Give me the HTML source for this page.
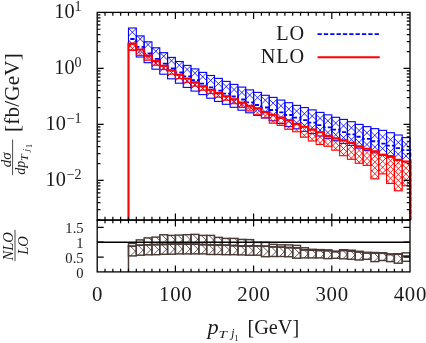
<!DOCTYPE html>
<html lang="en">
<head>
<meta charset="utf-8">
<title>pT j1 distribution: LO vs NLO</title>
<style>
html,body{margin:0;padding:0;background:#ffffff;}
body{width:426px;height:343px;overflow:hidden;}
svg{display:block;will-change:transform;}
</style>
</head>
<body>
<svg width="426" height="343" viewBox="0 0 426 343">
<rect x="0" y="0" width="426" height="343" fill="#ffffff"/>
<clipPath id="mainclip"><rect x="97.2" y="12.4" width="314.8" height="207.7"/></clipPath>
<clipPath id="ratclip"><rect x="97.2" y="220.1" width="312.8" height="51.8"/></clipPath>
<g clip-path="url(#mainclip)">
<g>
<clipPath id="c1"><rect x="128.48" y="28" width="7.82" height="22.1"/></clipPath>
<path d="M132.39 55.63L115.81 39.05M132.39 55.63L148.97 39.05M138.24 49.78L121.66 33.2M126.54 49.78L143.12 33.2M144.09 43.93L127.51 27.35M120.69 43.93L137.27 27.35M149.93 38.08L133.36 21.51M114.85 38.08L131.42 21.51" stroke="#0000ff" stroke-width="0.85" fill="none" clip-path="url(#c1)"/>
<rect x="128.48" y="28" width="7.82" height="22.1" fill="none" stroke="#0000ff" stroke-width="1.1"/>
<clipPath id="c2"><rect x="136.3" y="35.9" width="7.82" height="21.1"/></clipPath>
<path d="M140.21 62.36L124.3 46.45M140.21 62.36L156.12 46.45M146.06 56.51L130.15 40.6M134.36 56.51L150.27 40.6M151.91 50.67L135.99 34.75M128.51 50.67L144.43 34.75M157.75 44.82L141.84 28.91M122.67 44.82L138.58 28.91" stroke="#0000ff" stroke-width="0.85" fill="none" clip-path="url(#c2)"/>
<rect x="136.3" y="35.9" width="7.82" height="21.1" fill="none" stroke="#0000ff" stroke-width="1.1"/>
<clipPath id="c3"><rect x="144.12" y="41.8" width="7.82" height="20.9"/></clipPath>
<path d="M148.03 68.03L132.25 52.25M148.03 68.03L163.81 52.25M153.88 62.18L138.1 46.4M142.18 62.18L157.96 46.4M159.73 56.33L143.95 40.55M136.33 56.33L152.11 40.55M165.57 50.49L149.79 34.71M130.49 50.49L146.27 34.71" stroke="#0000ff" stroke-width="0.85" fill="none" clip-path="url(#c3)"/>
<rect x="144.12" y="41.8" width="7.82" height="20.9" fill="none" stroke="#0000ff" stroke-width="1.1"/>
<clipPath id="c4"><rect x="151.94" y="47.8" width="7.82" height="21.4"/></clipPath>
<path d="M155.85 74.61L139.74 58.5M155.85 74.61L171.96 58.5M161.7 68.76L145.59 52.65M150 68.76L166.11 52.65M167.55 62.92L151.43 46.8M144.15 62.92L160.27 46.8M173.39 57.07L157.28 40.96M138.31 57.07L154.42 40.96" stroke="#0000ff" stroke-width="0.85" fill="none" clip-path="url(#c4)"/>
<rect x="151.94" y="47.8" width="7.82" height="21.4" fill="none" stroke="#0000ff" stroke-width="1.1"/>
<clipPath id="c5"><rect x="159.76" y="52.7" width="7.82" height="21.5"/></clipPath>
<path d="M163.67 79.63L147.49 63.45M163.67 79.63L179.85 63.45M169.52 73.78L153.34 57.6M157.82 73.78L174 57.6M175.37 67.93L159.19 51.75M151.97 67.93L168.15 51.75M181.21 62.08L165.04 45.91M146.13 62.08L162.3 45.91" stroke="#0000ff" stroke-width="0.85" fill="none" clip-path="url(#c5)"/>
<rect x="159.76" y="52.7" width="7.82" height="21.5" fill="none" stroke="#0000ff" stroke-width="1.1"/>
<clipPath id="c6"><rect x="167.58" y="57.4" width="7.82" height="21.4"/></clipPath>
<path d="M171.49 84.21L155.38 68.1M171.49 84.21L187.6 68.1M177.34 78.36L161.23 62.25M165.64 78.36L181.75 62.25M183.19 72.52L167.07 56.4M159.79 72.52L175.91 56.4M189.03 66.67L172.92 50.56M153.95 66.67L170.06 50.56" stroke="#0000ff" stroke-width="0.85" fill="none" clip-path="url(#c6)"/>
<rect x="167.58" y="57.4" width="7.82" height="21.4" fill="none" stroke="#0000ff" stroke-width="1.1"/>
<clipPath id="c7"><rect x="175.4" y="61.5" width="7.82" height="21.7"/></clipPath>
<path d="M179.31 88.66L163 72.35M179.31 88.66L195.62 72.35M185.16 82.81L168.85 66.5M173.46 82.81L189.77 66.5M191.01 76.96L174.7 60.65M167.61 76.96L183.92 60.65M196.85 71.12L180.54 54.81M161.77 71.12L178.08 54.81" stroke="#0000ff" stroke-width="0.85" fill="none" clip-path="url(#c7)"/>
<rect x="175.4" y="61.5" width="7.82" height="21.7" fill="none" stroke="#0000ff" stroke-width="1.1"/>
<clipPath id="c8"><rect x="183.22" y="65.4" width="7.82" height="22"/></clipPath>
<path d="M187.13 92.91L170.62 76.4M187.13 92.91L203.64 76.4M192.98 87.06L176.47 70.55M181.28 87.06L197.79 70.55M198.83 81.21L182.32 64.7M175.43 81.21L191.94 64.7M204.67 75.37L188.16 58.86M169.59 75.37L186.1 58.86" stroke="#0000ff" stroke-width="0.85" fill="none" clip-path="url(#c8)"/>
<rect x="183.22" y="65.4" width="7.82" height="22" fill="none" stroke="#0000ff" stroke-width="1.1"/>
<clipPath id="c9"><rect x="191.04" y="68.9" width="7.82" height="22.2"/></clipPath>
<path d="M194.95 96.64L178.31 80M194.95 96.64L211.59 80M200.8 90.8L184.15 74.15M189.1 90.8L205.75 74.15M206.65 84.95L190 68.3M183.25 84.95L199.9 68.3M212.49 79.1L195.85 62.46M177.41 79.1L194.05 62.46" stroke="#0000ff" stroke-width="0.85" fill="none" clip-path="url(#c9)"/>
<rect x="191.04" y="68.9" width="7.82" height="22.2" fill="none" stroke="#0000ff" stroke-width="1.1"/>
<clipPath id="c10"><rect x="198.86" y="72.4" width="7.82" height="22.2"/></clipPath>
<path d="M202.77 100.14L186.13 83.5M202.77 100.14L219.41 83.5M208.62 94.3L191.97 77.65M196.92 94.3L213.57 77.65M214.47 88.45L197.82 71.8M191.07 88.45L207.72 71.8M220.31 82.6L203.67 65.96M185.23 82.6L201.87 65.96" stroke="#0000ff" stroke-width="0.85" fill="none" clip-path="url(#c10)"/>
<rect x="198.86" y="72.4" width="7.82" height="22.2" fill="none" stroke="#0000ff" stroke-width="1.1"/>
<clipPath id="c11"><rect x="206.68" y="75.5" width="7.82" height="22.7"/></clipPath>
<path d="M210.59 103.83L193.61 86.85M210.59 103.83L227.57 86.85M216.44 97.98L199.46 81M204.74 97.98L221.72 81M222.29 92.13L205.31 75.15M198.89 92.13L215.87 75.15M228.13 86.28L211.16 69.31M193.05 86.28L210.02 69.31" stroke="#0000ff" stroke-width="0.85" fill="none" clip-path="url(#c11)"/>
<rect x="206.68" y="75.5" width="7.82" height="22.7" fill="none" stroke="#0000ff" stroke-width="1.1"/>
<clipPath id="c12"><rect x="214.5" y="78.4" width="7.82" height="23"/></clipPath>
<path d="M218.41 107.08L201.23 89.9M218.41 107.08L235.59 89.9M224.26 101.23L207.08 84.05M212.56 101.23L229.74 84.05M230.11 95.38L212.93 78.2M206.71 95.38L223.89 78.2M235.95 89.53L218.78 72.36M200.87 89.53L218.04 72.36" stroke="#0000ff" stroke-width="0.85" fill="none" clip-path="url(#c12)"/>
<rect x="214.5" y="78.4" width="7.82" height="23" fill="none" stroke="#0000ff" stroke-width="1.1"/>
<clipPath id="c13"><rect x="222.32" y="81.4" width="7.82" height="22.9"/></clipPath>
<path d="M226.23 109.96L209.12 92.85M226.23 109.96L243.34 92.85M232.08 104.11L214.97 87M220.38 104.11L237.49 87M237.93 98.27L220.81 81.15M214.53 98.27L231.65 81.15M243.77 92.42L226.66 75.31M208.69 92.42L225.8 75.31" stroke="#0000ff" stroke-width="0.85" fill="none" clip-path="url(#c13)"/>
<rect x="222.32" y="81.4" width="7.82" height="22.9" fill="none" stroke="#0000ff" stroke-width="1.1"/>
<clipPath id="c14"><rect x="230.14" y="84.4" width="7.82" height="22.9"/></clipPath>
<path d="M234.05 112.96L216.94 95.85M234.05 112.96L251.16 95.85M239.9 107.11L222.79 90M228.2 107.11L245.31 90M245.75 101.27L228.63 84.15M222.35 101.27L239.47 84.15M251.59 95.42L234.48 78.31M216.51 95.42L233.62 78.31" stroke="#0000ff" stroke-width="0.85" fill="none" clip-path="url(#c14)"/>
<rect x="230.14" y="84.4" width="7.82" height="22.9" fill="none" stroke="#0000ff" stroke-width="1.1"/>
<clipPath id="c15"><rect x="237.96" y="87.1" width="7.82" height="23.1"/></clipPath>
<path d="M241.87 115.89L224.63 98.65M241.87 115.89L259.11 98.65M247.72 110.05L230.47 92.8M236.02 110.05L253.27 92.8M253.57 104.2L236.32 86.95M230.17 104.2L247.42 86.95M259.41 98.35L242.17 81.11M224.33 98.35L241.57 81.11" stroke="#0000ff" stroke-width="0.85" fill="none" clip-path="url(#c15)"/>
<rect x="237.96" y="87.1" width="7.82" height="23.1" fill="none" stroke="#0000ff" stroke-width="1.1"/>
<clipPath id="c16"><rect x="245.78" y="89.9" width="7.82" height="22.9"/></clipPath>
<path d="M249.69 118.46L232.58 101.35M249.69 118.46L266.8 101.35M255.54 112.61L238.43 95.5M243.84 112.61L260.95 95.5M261.39 106.77L244.27 89.65M237.99 106.77L255.11 89.65M267.23 100.92L250.12 83.81M232.15 100.92L249.26 83.81" stroke="#0000ff" stroke-width="0.85" fill="none" clip-path="url(#c16)"/>
<rect x="245.78" y="89.9" width="7.82" height="22.9" fill="none" stroke="#0000ff" stroke-width="1.1"/>
<clipPath id="c17"><rect x="253.6" y="92.4" width="7.82" height="23"/></clipPath>
<path d="M257.51 121.08L240.33 103.9M257.51 121.08L274.69 103.9M263.36 115.23L246.18 98.05M251.66 115.23L268.84 98.05M269.21 109.38L252.03 92.2M245.81 109.38L262.99 92.2M275.05 103.53L257.88 86.36M239.97 103.53L257.14 86.36" stroke="#0000ff" stroke-width="0.85" fill="none" clip-path="url(#c17)"/>
<rect x="253.6" y="92.4" width="7.82" height="23" fill="none" stroke="#0000ff" stroke-width="1.1"/>
<clipPath id="c18"><rect x="261.42" y="95.3" width="7.82" height="22.7"/></clipPath>
<path d="M265.33 123.63L248.35 106.65M265.33 123.63L282.31 106.65M271.18 117.78L254.2 100.8M259.48 117.78L276.46 100.8M277.03 111.93L260.05 94.95M253.63 111.93L270.61 94.95M282.87 106.08L265.9 89.11M247.79 106.08L264.76 89.11" stroke="#0000ff" stroke-width="0.85" fill="none" clip-path="url(#c18)"/>
<rect x="261.42" y="95.3" width="7.82" height="22.7" fill="none" stroke="#0000ff" stroke-width="1.1"/>
<clipPath id="c19"><rect x="269.24" y="97.4" width="7.82" height="23.4"/></clipPath>
<path d="M273.15 126.55L255.7 109.1M273.15 126.55L290.6 109.1M279 120.7L261.55 103.25M267.3 120.7L284.75 103.25M284.85 114.85L267.4 97.4M261.45 114.85L278.9 97.4M290.69 109L273.25 91.56M255.61 109L273.05 91.56" stroke="#0000ff" stroke-width="0.85" fill="none" clip-path="url(#c19)"/>
<rect x="269.24" y="97.4" width="7.82" height="23.4" fill="none" stroke="#0000ff" stroke-width="1.1"/>
<clipPath id="c20"><rect x="277.06" y="100.1" width="7.82" height="23.3"/></clipPath>
<path d="M280.97 129.13L263.59 111.75M280.97 129.13L298.35 111.75M286.82 123.28L269.44 105.9M275.12 123.28L292.5 105.9M292.67 117.43L275.29 100.05M269.27 117.43L286.65 100.05M298.51 111.59L281.13 94.21M263.43 111.59L280.81 94.21" stroke="#0000ff" stroke-width="0.85" fill="none" clip-path="url(#c20)"/>
<rect x="277.06" y="100.1" width="7.82" height="23.3" fill="none" stroke="#0000ff" stroke-width="1.1"/>
<clipPath id="c21"><rect x="284.88" y="102.7" width="7.82" height="23.9"/></clipPath>
<path d="M288.79 132.43L271.01 114.65M288.79 132.43L306.57 114.65M294.64 126.58L276.86 108.8M282.94 126.58L300.72 108.8M300.49 120.74L282.7 102.95M277.09 120.74L294.88 102.95M306.33 114.89L288.55 97.11M271.25 114.89L289.03 97.11M312.18 109.04L294.4 91.26M265.4 109.04L283.18 91.26" stroke="#0000ff" stroke-width="0.85" fill="none" clip-path="url(#c21)"/>
<rect x="284.88" y="102.7" width="7.82" height="23.9" fill="none" stroke="#0000ff" stroke-width="1.1"/>
<clipPath id="c22"><rect x="292.7" y="105.4" width="7.82" height="23.4"/></clipPath>
<path d="M296.61 134.55L279.16 117.1M296.61 134.55L314.06 117.1M302.46 128.7L285.01 111.25M290.76 128.7L308.21 111.25M308.31 122.85L290.86 105.4M284.91 122.85L302.36 105.4M314.15 117L296.71 99.56M279.07 117L296.51 99.56" stroke="#0000ff" stroke-width="0.85" fill="none" clip-path="url(#c22)"/>
<rect x="292.7" y="105.4" width="7.82" height="23.4" fill="none" stroke="#0000ff" stroke-width="1.1"/>
<clipPath id="c23"><rect x="300.52" y="107.6" width="7.82" height="23.7"/></clipPath>
<path d="M304.43 137.1L286.78 119.45M304.43 137.1L322.08 119.45M310.28 131.25L292.63 113.6M298.58 131.25L316.23 113.6M316.13 125.4L298.48 107.75M292.73 125.4L310.38 107.75M321.97 119.55L304.33 101.91M286.89 119.55L304.53 101.91M327.82 113.71L310.17 96.06M281.04 113.71L298.69 96.06" stroke="#0000ff" stroke-width="0.85" fill="none" clip-path="url(#c23)"/>
<rect x="300.52" y="107.6" width="7.82" height="23.7" fill="none" stroke="#0000ff" stroke-width="1.1"/>
<clipPath id="c24"><rect x="308.34" y="109.9" width="7.82" height="23.7"/></clipPath>
<path d="M312.25 139.4L294.6 121.75M312.25 139.4L329.9 121.75M318.1 133.55L300.45 115.9M306.4 133.55L324.05 115.9M323.95 127.7L306.3 110.05M300.55 127.7L318.2 110.05M329.79 121.85L312.15 104.21M294.71 121.85L312.35 104.21M335.64 116.01L317.99 98.36M288.86 116.01L306.51 98.36" stroke="#0000ff" stroke-width="0.85" fill="none" clip-path="url(#c24)"/>
<rect x="308.34" y="109.9" width="7.82" height="23.7" fill="none" stroke="#0000ff" stroke-width="1.1"/>
<clipPath id="c25"><rect x="316.16" y="112.4" width="7.82" height="23.6"/></clipPath>
<path d="M320.07 141.78L302.49 124.2M320.07 141.78L337.65 124.2M325.92 135.93L308.34 118.35M314.22 135.93L331.8 118.35M331.77 130.08L314.19 112.5M308.37 130.08L325.95 112.5M337.61 124.24L320.03 106.66M302.53 124.24L320.11 106.66M343.46 118.39L325.88 100.81M296.68 118.39L314.26 100.81" stroke="#0000ff" stroke-width="0.85" fill="none" clip-path="url(#c25)"/>
<rect x="316.16" y="112.4" width="7.82" height="23.6" fill="none" stroke="#0000ff" stroke-width="1.1"/>
<clipPath id="c26"><rect x="323.98" y="114.85" width="7.82" height="23.55"/></clipPath>
<path d="M327.89 144.17L310.34 126.62M327.89 144.17L345.44 126.62M333.74 138.32L316.19 120.78M322.04 138.32L339.59 120.78M339.59 132.48L322.04 114.93M316.19 132.48L333.74 114.93M345.43 126.63L327.89 109.08M310.35 126.63L327.89 109.08M351.28 120.78L333.73 103.23M304.5 120.78L322.05 103.23" stroke="#0000ff" stroke-width="0.85" fill="none" clip-path="url(#c26)"/>
<rect x="323.98" y="114.85" width="7.82" height="23.55" fill="none" stroke="#0000ff" stroke-width="1.1"/>
<clipPath id="c27"><rect x="331.8" y="117.3" width="7.82" height="23.4"/></clipPath>
<path d="M335.71 146.45L318.26 129M335.71 146.45L353.16 129M341.56 140.6L324.11 123.15M329.86 140.6L347.31 123.15M347.41 134.75L329.96 117.3M324.01 134.75L341.46 117.3M353.25 128.9L335.81 111.46M318.17 128.9L335.61 111.46" stroke="#0000ff" stroke-width="0.85" fill="none" clip-path="url(#c27)"/>
<rect x="331.8" y="117.3" width="7.82" height="23.4" fill="none" stroke="#0000ff" stroke-width="1.1"/>
<clipPath id="c28"><rect x="339.62" y="119.4" width="7.82" height="24"/></clipPath>
<path d="M343.53 149.25L325.68 131.4M343.53 149.25L361.38 131.4M349.38 143.4L331.53 125.55M337.68 143.4L355.53 125.55M355.23 137.55L337.38 119.7M331.83 137.55L349.68 119.7M361.07 131.71L343.22 113.86M325.99 131.71L343.84 113.86M366.92 125.86L349.07 108.01M320.14 125.86L337.99 108.01" stroke="#0000ff" stroke-width="0.85" fill="none" clip-path="url(#c28)"/>
<rect x="339.62" y="119.4" width="7.82" height="24" fill="none" stroke="#0000ff" stroke-width="1.1"/>
<clipPath id="c29"><rect x="347.44" y="121.7" width="7.82" height="23.7"/></clipPath>
<path d="M351.35 151.2L333.7 133.55M351.35 151.2L369 133.55M357.2 145.35L339.55 127.7M345.5 145.35L363.15 127.7M363.05 139.5L345.4 121.85M339.65 139.5L357.3 121.85M368.89 133.65L351.25 116.01M333.81 133.65L351.45 116.01M374.74 127.81L357.09 110.16M327.96 127.81L345.61 110.16" stroke="#0000ff" stroke-width="0.85" fill="none" clip-path="url(#c29)"/>
<rect x="347.44" y="121.7" width="7.82" height="23.7" fill="none" stroke="#0000ff" stroke-width="1.1"/>
<clipPath id="c30"><rect x="355.26" y="124.4" width="7.82" height="23.7"/></clipPath>
<path d="M359.17 153.9L341.52 136.25M359.17 153.9L376.82 136.25M365.02 148.05L347.37 130.4M353.32 148.05L370.97 130.4M370.87 142.2L353.22 124.55M347.47 142.2L365.12 124.55M376.71 136.35L359.07 118.71M341.63 136.35L359.27 118.71M382.56 130.51L364.91 112.86M335.78 130.51L353.43 112.86" stroke="#0000ff" stroke-width="0.85" fill="none" clip-path="url(#c30)"/>
<rect x="355.26" y="124.4" width="7.82" height="23.7" fill="none" stroke="#0000ff" stroke-width="1.1"/>
<clipPath id="c31"><rect x="363.08" y="126.65" width="7.82" height="23.75"/></clipPath>
<path d="M366.99 156.21L349.31 138.53M366.99 156.21L384.67 138.53M372.84 150.36L355.16 132.68M361.14 150.36L378.82 132.68M378.69 144.51L361 126.83M355.29 144.51L372.98 126.83M384.53 138.66L366.85 120.98M349.45 138.66L367.13 120.98M390.38 132.81L372.7 115.13M343.6 132.81L361.28 115.13" stroke="#0000ff" stroke-width="0.85" fill="none" clip-path="url(#c31)"/>
<rect x="363.08" y="126.65" width="7.82" height="23.75" fill="none" stroke="#0000ff" stroke-width="1.1"/>
<clipPath id="c32"><rect x="370.9" y="128.65" width="7.82" height="24.25"/></clipPath>
<path d="M374.81 158.79L356.79 140.78M374.81 158.79L392.83 140.78M380.66 152.94L362.64 134.93M368.96 152.94L386.98 134.93M386.51 147.1L368.49 129.08M363.11 147.1L381.13 129.08M392.35 141.25L374.34 123.23M357.27 141.25L375.28 123.23M398.2 135.4L380.18 117.38M351.42 135.4L369.44 117.38" stroke="#0000ff" stroke-width="0.85" fill="none" clip-path="url(#c32)"/>
<rect x="370.9" y="128.65" width="7.82" height="24.25" fill="none" stroke="#0000ff" stroke-width="1.1"/>
<clipPath id="c33"><rect x="378.72" y="130.35" width="7.82" height="24.05"/></clipPath>
<path d="M382.63 160.26L364.75 142.38M382.63 160.26L400.51 142.38M388.48 154.41L370.6 136.53M376.78 154.41L394.66 136.53M394.33 148.56L376.44 130.68M370.93 148.56L388.82 130.68M400.17 142.71L382.29 124.83M365.09 142.71L382.97 124.83M406.02 136.87L388.14 118.98M359.24 136.87L377.12 118.98" stroke="#0000ff" stroke-width="0.85" fill="none" clip-path="url(#c33)"/>
<rect x="378.72" y="130.35" width="7.82" height="24.05" fill="none" stroke="#0000ff" stroke-width="1.1"/>
<clipPath id="c34"><rect x="386.54" y="132.7" width="7.82" height="24.5"/></clipPath>
<path d="M390.45 163.14L372.26 144.95M390.45 163.14L408.64 144.95M396.3 157.29L378.11 139.1M384.6 157.29L402.79 139.1M402.15 151.44L383.96 133.25M378.75 151.44L396.94 133.25M407.99 145.59L389.81 127.41M372.91 145.59L391.09 127.41M413.84 139.74L395.66 121.56M367.06 139.74L385.24 121.56" stroke="#0000ff" stroke-width="0.85" fill="none" clip-path="url(#c34)"/>
<rect x="386.54" y="132.7" width="7.82" height="24.5" fill="none" stroke="#0000ff" stroke-width="1.1"/>
<clipPath id="c35"><rect x="394.36" y="135" width="7.82" height="24.8"/></clipPath>
<path d="M398.27 165.79L379.88 147.4M398.27 165.79L416.66 147.4M404.12 159.94L385.73 141.55M392.42 159.94L410.81 141.55M409.97 154.09L391.58 135.7M386.57 154.09L404.96 135.7M415.81 148.24L397.43 129.86M380.73 148.24L399.11 129.86M421.66 142.4L403.27 124.01M374.88 142.4L393.27 124.01" stroke="#0000ff" stroke-width="0.85" fill="none" clip-path="url(#c35)"/>
<rect x="394.36" y="135" width="7.82" height="24.8" fill="none" stroke="#0000ff" stroke-width="1.1"/>
<clipPath id="c36"><rect x="402.18" y="137.6" width="7.82" height="24.2"/></clipPath>
<path d="M406.09 167.68L388.11 149.7M406.09 167.68L424.07 149.7M411.94 161.84L393.95 143.85M400.24 161.84L418.23 143.85M417.79 155.99L399.8 138M394.39 155.99L412.38 138M423.63 150.14L405.65 132.16M388.55 150.14L406.53 132.16M429.48 144.29L411.5 126.31M382.7 144.29L400.68 126.31" stroke="#0000ff" stroke-width="0.85" fill="none" clip-path="url(#c36)"/>
<rect x="402.18" y="137.6" width="7.82" height="24.2" fill="none" stroke="#0000ff" stroke-width="1.1"/>
</g><g>
<clipPath id="c37"><rect x="128.48" y="43.6" width="7.82" height="6.7"/></clipPath>
<path d="M132.39 54.23L125.11 46.95M132.39 54.23L139.67 46.95M135.32 51.3L128.04 44.02M129.46 51.3L136.74 44.02M138.24 48.38L130.96 41.1M126.54 48.38L133.82 41.1M141.17 45.45L133.89 38.17M123.61 45.45L130.89 38.17" stroke="#ff0000" stroke-width="0.85" fill="none" clip-path="url(#c37)"/>
<rect x="128.48" y="43.6" width="7.82" height="6.7" fill="none" stroke="#ff0000" stroke-width="1.1"/>
<clipPath id="c38"><rect x="136.3" y="49.5" width="7.82" height="5.9"/></clipPath>
<path d="M140.21 59.38L133.28 52.45M140.21 59.38L147.14 52.45M143.14 56.45L136.21 49.52M137.28 56.45L144.21 49.52M146.06 53.52L139.14 46.6M134.36 53.52L141.28 46.6M148.99 50.59L142.07 43.67M131.43 50.59L138.35 43.67" stroke="#ff0000" stroke-width="0.85" fill="none" clip-path="url(#c38)"/>
<rect x="136.3" y="49.5" width="7.82" height="5.9" fill="none" stroke="#ff0000" stroke-width="1.1"/>
<clipPath id="c39"><rect x="144.12" y="55.6" width="7.82" height="4.6"/></clipPath>
<path d="M148.03 64.32L141.61 57.9M148.03 64.32L154.45 57.9M150.96 61.39L144.54 54.97M145.1 61.39L151.52 54.97M153.88 58.46L147.47 52.05M142.18 58.46L148.59 52.05M156.81 55.53L150.4 49.12M139.25 55.53L145.66 49.12" stroke="#ff0000" stroke-width="0.85" fill="none" clip-path="url(#c39)"/>
<rect x="144.12" y="55.6" width="7.82" height="4.6" fill="none" stroke="#ff0000" stroke-width="1.1"/>
<clipPath id="c40"><rect x="151.94" y="61.1" width="7.82" height="4.2"/></clipPath>
<path d="M155.85 69.48L149.57 63.2M155.85 69.48L162.13 63.2M158.78 66.55L152.5 60.27M152.92 66.55L159.2 60.27M161.7 63.62L155.43 57.35M150 63.62L156.27 57.35M164.63 60.69L158.36 54.42M147.07 60.69L153.34 54.42" stroke="#ff0000" stroke-width="0.85" fill="none" clip-path="url(#c40)"/>
<rect x="151.94" y="61.1" width="7.82" height="4.2" fill="none" stroke="#ff0000" stroke-width="1.1"/>
<clipPath id="c41"><rect x="159.76" y="65.8" width="7.82" height="3.7"/></clipPath>
<path d="M163.67 73.77L157.55 67.65M163.67 73.77L169.79 67.65M166.6 70.84L160.48 64.72M160.74 70.84L166.86 64.72M169.52 67.91L163.41 61.8M157.82 67.91L163.93 61.8M172.45 64.99L166.33 58.87M154.89 64.99L161.01 58.87" stroke="#ff0000" stroke-width="0.85" fill="none" clip-path="url(#c41)"/>
<rect x="159.76" y="65.8" width="7.82" height="3.7" fill="none" stroke="#ff0000" stroke-width="1.1"/>
<clipPath id="c42"><rect x="167.58" y="70.4" width="7.82" height="3.8"/></clipPath>
<path d="M171.49 78.45L165.34 72.3M171.49 78.45L177.64 72.3M174.42 75.52L168.27 69.37M168.56 75.52L174.71 69.37M177.34 72.59L171.2 66.45M165.64 72.59L171.78 66.45M180.27 69.67L174.12 63.52M162.71 69.67L168.86 63.52" stroke="#ff0000" stroke-width="0.85" fill="none" clip-path="url(#c42)"/>
<rect x="167.58" y="70.4" width="7.82" height="3.8" fill="none" stroke="#ff0000" stroke-width="1.1"/>
<clipPath id="c43"><rect x="175.4" y="74.8" width="7.82" height="3.8"/></clipPath>
<path d="M179.31 82.85L173.16 76.7M179.31 82.85L185.46 76.7M182.24 79.92L176.09 73.77M176.38 79.92L182.53 73.77M185.16 76.99L179.02 70.85M173.46 76.99L179.6 70.85M188.09 74.07L181.94 67.92M170.53 74.07L176.68 67.92" stroke="#ff0000" stroke-width="0.85" fill="none" clip-path="url(#c43)"/>
<rect x="175.4" y="74.8" width="7.82" height="3.8" fill="none" stroke="#ff0000" stroke-width="1.1"/>
<clipPath id="c44"><rect x="183.22" y="78.5" width="7.82" height="3.8"/></clipPath>
<path d="M187.13 86.55L180.98 80.4M187.13 86.55L193.28 80.4M190.06 83.62L183.91 77.47M184.2 83.62L190.35 77.47M192.98 80.69L186.84 74.55M181.28 80.69L187.42 74.55M195.91 77.77L189.76 71.62M178.35 77.77L184.5 71.62" stroke="#ff0000" stroke-width="0.85" fill="none" clip-path="url(#c44)"/>
<rect x="183.22" y="78.5" width="7.82" height="3.8" fill="none" stroke="#ff0000" stroke-width="1.1"/>
<clipPath id="c45"><rect x="191.04" y="82.4" width="7.82" height="3.8"/></clipPath>
<path d="M194.95 90.45L188.8 84.3M194.95 90.45L201.1 84.3M197.88 87.52L191.73 81.37M192.02 87.52L198.17 81.37M200.8 84.59L194.66 78.45M189.1 84.59L195.24 78.45M203.73 81.67L197.58 75.52M186.17 81.67L192.32 75.52" stroke="#ff0000" stroke-width="0.85" fill="none" clip-path="url(#c45)"/>
<rect x="191.04" y="82.4" width="7.82" height="3.8" fill="none" stroke="#ff0000" stroke-width="1.1"/>
<clipPath id="c46"><rect x="198.86" y="86.2" width="7.82" height="4"/></clipPath>
<path d="M202.77 94.41L196.56 88.2M202.77 94.41L208.98 88.2M205.7 91.48L199.49 85.27M199.84 91.48L206.05 85.27M208.62 88.56L202.41 82.35M196.92 88.56L203.13 82.35M211.55 85.63L205.34 79.42M193.99 85.63L200.2 79.42" stroke="#ff0000" stroke-width="0.85" fill="none" clip-path="url(#c46)"/>
<rect x="198.86" y="86.2" width="7.82" height="4" fill="none" stroke="#ff0000" stroke-width="1.1"/>
<clipPath id="c47"><rect x="206.68" y="89.7" width="7.82" height="3.9"/></clipPath>
<path d="M210.59 97.83L204.41 91.65M210.59 97.83L216.77 91.65M213.52 94.9L207.34 88.72M207.66 94.9L213.84 88.72M216.44 91.97L210.27 85.8M204.74 91.97L210.91 85.8M219.37 89.05L213.19 82.87M201.81 89.05L207.99 82.87" stroke="#ff0000" stroke-width="0.85" fill="none" clip-path="url(#c47)"/>
<rect x="206.68" y="89.7" width="7.82" height="3.9" fill="none" stroke="#ff0000" stroke-width="1.1"/>
<clipPath id="c48"><rect x="214.5" y="93.1" width="7.82" height="4.1"/></clipPath>
<path d="M218.41 101.39L212.17 95.15M218.41 101.39L224.65 95.15M221.34 98.47L215.09 92.22M215.48 98.47L221.73 92.22M224.26 95.54L218.02 89.3M212.56 95.54L218.8 89.3M227.19 92.61L220.95 86.37M209.63 92.61L215.87 86.37" stroke="#ff0000" stroke-width="0.85" fill="none" clip-path="url(#c48)"/>
<rect x="214.5" y="93.1" width="7.82" height="4.1" fill="none" stroke="#ff0000" stroke-width="1.1"/>
<clipPath id="c49"><rect x="222.32" y="96.3" width="7.82" height="3.9"/></clipPath>
<path d="M226.23 104.43L220.05 98.25M226.23 104.43L232.41 98.25M229.16 101.5L222.98 95.32M223.3 101.5L229.48 95.32M232.08 98.57L225.91 92.4M220.38 98.57L226.55 92.4M235.01 95.65L228.83 89.47M217.45 95.65L223.63 89.47" stroke="#ff0000" stroke-width="0.85" fill="none" clip-path="url(#c49)"/>
<rect x="222.32" y="96.3" width="7.82" height="3.9" fill="none" stroke="#ff0000" stroke-width="1.1"/>
<clipPath id="c50"><rect x="230.14" y="99.3" width="7.82" height="4.4"/></clipPath>
<path d="M234.05 107.84L227.71 101.5M234.05 107.84L240.39 101.5M236.98 104.92L230.63 98.57M231.12 104.92L237.47 98.57M239.9 101.99L233.56 95.65M228.2 101.99L234.54 95.65M242.83 99.06L236.49 92.72M225.27 99.06L231.61 92.72" stroke="#ff0000" stroke-width="0.85" fill="none" clip-path="url(#c50)"/>
<rect x="230.14" y="99.3" width="7.82" height="4.4" fill="none" stroke="#ff0000" stroke-width="1.1"/>
<clipPath id="c51"><rect x="237.96" y="102.6" width="7.82" height="4.9"/></clipPath>
<path d="M241.87 111.58L235.34 105.05M241.87 111.58L248.4 105.05M244.8 108.65L238.27 102.12M238.94 108.65L245.47 102.12M247.72 105.72L241.2 99.2M236.02 105.72L242.54 99.2M250.65 102.79L244.13 96.27M233.09 102.79L239.61 96.27" stroke="#ff0000" stroke-width="0.85" fill="none" clip-path="url(#c51)"/>
<rect x="237.96" y="102.6" width="7.82" height="4.9" fill="none" stroke="#ff0000" stroke-width="1.1"/>
<clipPath id="c52"><rect x="245.78" y="105.8" width="7.82" height="5.2"/></clipPath>
<path d="M249.69 115.04L243.05 108.4M249.69 115.04L256.33 108.4M252.62 112.11L245.98 105.47M246.76 112.11L253.4 105.47M255.54 109.19L248.9 102.55M243.84 109.19L250.48 102.55M258.47 106.26L251.83 99.62M240.91 106.26L247.55 99.62" stroke="#ff0000" stroke-width="0.85" fill="none" clip-path="url(#c52)"/>
<rect x="245.78" y="105.8" width="7.82" height="5.2" fill="none" stroke="#ff0000" stroke-width="1.1"/>
<clipPath id="c53"><rect x="253.6" y="108.4" width="7.82" height="6.4"/></clipPath>
<path d="M257.51 118.75L250.36 111.6M257.51 118.75L264.66 111.6M260.44 115.82L253.29 108.67M254.58 115.82L261.73 108.67M263.36 112.89L256.22 105.75M251.66 112.89L258.8 105.75M266.29 109.96L259.15 102.82M248.73 109.96L255.87 102.82" stroke="#ff0000" stroke-width="0.85" fill="none" clip-path="url(#c53)"/>
<rect x="253.6" y="108.4" width="7.82" height="6.4" fill="none" stroke="#ff0000" stroke-width="1.1"/>
<clipPath id="c54"><rect x="261.42" y="112" width="7.82" height="5.8"/></clipPath>
<path d="M265.33 121.78L258.45 114.9M265.33 121.78L272.21 114.9M268.26 118.86L261.37 111.97M262.4 118.86L269.29 111.97M271.18 115.93L264.3 109.05M259.48 115.93L266.36 109.05M274.11 113L267.23 106.12M256.55 113L263.43 106.12" stroke="#ff0000" stroke-width="0.85" fill="none" clip-path="url(#c54)"/>
<rect x="261.42" y="112" width="7.82" height="5.8" fill="none" stroke="#ff0000" stroke-width="1.1"/>
<clipPath id="c55"><rect x="269.24" y="114.8" width="7.82" height="8.4"/></clipPath>
<path d="M273.15 127.12L265.03 119M273.15 127.12L281.27 119M276.08 124.19L267.96 116.07M270.22 124.19L278.34 116.07M279 121.26L270.89 113.15M267.3 121.26L275.41 113.15M281.93 118.33L273.82 110.22M264.37 118.33L272.48 110.22" stroke="#ff0000" stroke-width="0.85" fill="none" clip-path="url(#c55)"/>
<rect x="269.24" y="114.8" width="7.82" height="8.4" fill="none" stroke="#ff0000" stroke-width="1.1"/>
<clipPath id="c56"><rect x="277.06" y="117.6" width="7.82" height="7.8"/></clipPath>
<path d="M280.97 129.31L273.16 121.5M280.97 129.31L288.78 121.5M283.9 126.38L276.09 118.57M278.04 126.38L285.85 118.57M286.82 123.46L279.01 115.65M275.12 123.46L282.93 115.65M289.75 120.53L281.94 112.72M272.19 120.53L280 112.72" stroke="#ff0000" stroke-width="0.85" fill="none" clip-path="url(#c56)"/>
<rect x="277.06" y="117.6" width="7.82" height="7.8" fill="none" stroke="#ff0000" stroke-width="1.1"/>
<clipPath id="c57"><rect x="284.88" y="120.3" width="7.82" height="9"/></clipPath>
<path d="M288.79 133.23L280.36 124.8M288.79 133.23L297.22 124.8M291.72 130.3L283.29 121.87M285.86 130.3L294.29 121.87M294.64 127.38L286.21 118.95M282.94 127.38L291.37 118.95M297.57 124.45L289.14 116.02M280.01 124.45L288.44 116.02" stroke="#ff0000" stroke-width="0.85" fill="none" clip-path="url(#c57)"/>
<rect x="284.88" y="120.3" width="7.82" height="9" fill="none" stroke="#ff0000" stroke-width="1.1"/>
<clipPath id="c58"><rect x="292.7" y="123.9" width="7.82" height="7.9"/></clipPath>
<path d="M296.61 135.71L288.75 127.85M296.61 135.71L304.47 127.85M299.54 132.78L291.68 124.92M293.68 132.78L301.54 124.92M302.46 129.86L294.6 122M290.76 129.86L298.62 122M305.39 126.93L297.53 119.07M287.83 126.93L295.69 119.07" stroke="#ff0000" stroke-width="0.85" fill="none" clip-path="url(#c58)"/>
<rect x="292.7" y="123.9" width="7.82" height="7.9" fill="none" stroke="#ff0000" stroke-width="1.1"/>
<clipPath id="c59"><rect x="300.52" y="126.7" width="7.82" height="10.5"/></clipPath>
<path d="M304.43 141.21L295.17 131.95M304.43 141.21L313.69 131.95M307.36 138.28L298.1 129.02M301.5 138.28L310.76 129.02M310.28 135.35L301.03 126.1M298.58 135.35L307.83 126.1M313.21 132.43L303.95 123.17M295.65 132.43L304.91 123.17M316.14 129.5L306.88 120.24M292.72 129.5L301.98 120.24" stroke="#ff0000" stroke-width="0.85" fill="none" clip-path="url(#c59)"/>
<rect x="300.52" y="126.7" width="7.82" height="10.5" fill="none" stroke="#ff0000" stroke-width="1.1"/>
<clipPath id="c60"><rect x="308.34" y="129.6" width="7.82" height="11.4"/></clipPath>
<path d="M312.25 145.08L302.47 135.3M312.25 145.08L322.03 135.3M315.18 142.15L305.4 132.37M309.32 142.15L319.1 132.37M318.1 139.22L308.33 129.45M306.4 139.22L316.17 129.45M321.03 136.29L311.26 126.52M303.47 136.29L313.24 126.52M323.96 133.37L314.18 123.59M300.54 133.37L310.32 123.59" stroke="#ff0000" stroke-width="0.85" fill="none" clip-path="url(#c60)"/>
<rect x="308.34" y="129.6" width="7.82" height="11.4" fill="none" stroke="#ff0000" stroke-width="1.1"/>
<clipPath id="c61"><rect x="316.16" y="132.3" width="7.82" height="12.2"/></clipPath>
<path d="M320.07 148.65L309.82 138.4M320.07 148.65L330.32 138.4M323 145.72L312.75 135.47M317.14 145.72L327.39 135.47M325.92 142.79L315.68 132.55M314.22 142.79L324.46 132.55M328.85 139.86L318.61 129.62M311.29 139.86L321.53 129.62M331.78 136.94L321.53 126.69M308.36 136.94L318.61 126.69" stroke="#ff0000" stroke-width="0.85" fill="none" clip-path="url(#c61)"/>
<rect x="316.16" y="132.3" width="7.82" height="12.2" fill="none" stroke="#ff0000" stroke-width="1.1"/>
<clipPath id="c62"><rect x="323.98" y="135.9" width="7.82" height="10.4"/></clipPath>
<path d="M327.89 150.3L318.69 141.1M327.89 150.3L337.09 141.1M330.82 147.37L321.62 138.17M324.96 147.37L334.16 138.17M333.74 144.45L324.54 135.25M322.04 144.45L331.24 135.25M336.67 141.52L327.47 132.32M319.11 141.52L328.31 132.32M339.6 138.59L330.4 129.39M316.18 138.59L325.38 129.39" stroke="#ff0000" stroke-width="0.85" fill="none" clip-path="url(#c62)"/>
<rect x="323.98" y="135.9" width="7.82" height="10.4" fill="none" stroke="#ff0000" stroke-width="1.1"/>
<clipPath id="c63"><rect x="331.8" y="138.4" width="7.82" height="11.8"/></clipPath>
<path d="M335.71 154.31L325.7 144.3M335.71 154.31L345.72 144.3M338.64 151.38L328.63 141.37M332.78 151.38L342.79 141.37M341.56 148.45L331.56 138.45M329.86 148.45L339.86 138.45M344.49 145.53L334.48 135.52M326.93 145.53L336.94 135.52M347.42 142.6L337.41 132.59M324 142.6L334.01 132.59" stroke="#ff0000" stroke-width="0.85" fill="none" clip-path="url(#c63)"/>
<rect x="331.8" y="138.4" width="7.82" height="11.8" fill="none" stroke="#ff0000" stroke-width="1.1"/>
<clipPath id="c64"><rect x="339.62" y="140.4" width="7.82" height="15.3"/></clipPath>
<path d="M343.53 160.2L331.38 148.05M343.53 160.2L355.68 148.05M346.46 157.27L334.31 145.12M340.6 157.27L352.75 145.12M349.38 154.35L337.23 142.2M337.68 154.35L349.83 142.2M352.31 151.42L340.16 139.27M334.75 151.42L346.9 139.27M355.24 148.49L343.09 136.34M331.82 148.49L343.97 136.34M358.17 145.56L346.02 133.41M328.89 145.56L341.04 133.41" stroke="#ff0000" stroke-width="0.85" fill="none" clip-path="url(#c64)"/>
<rect x="339.62" y="140.4" width="7.82" height="15.3" fill="none" stroke="#ff0000" stroke-width="1.1"/>
<clipPath id="c65"><rect x="347.44" y="142.9" width="7.82" height="16.4"/></clipPath>
<path d="M351.35 163.95L338.5 151.1M351.35 163.95L364.2 151.1M354.28 161.02L341.43 148.17M348.42 161.02L361.27 148.17M357.2 158.09L344.36 145.25M345.5 158.09L358.34 145.25M360.13 155.17L347.28 142.32M342.57 155.17L355.42 142.32M363.06 152.24L350.21 139.39M339.64 152.24L352.49 139.39M365.99 149.31L353.14 136.46M336.71 149.31L349.56 136.46" stroke="#ff0000" stroke-width="0.85" fill="none" clip-path="url(#c65)"/>
<rect x="347.44" y="142.9" width="7.82" height="16.4" fill="none" stroke="#ff0000" stroke-width="1.1"/>
<clipPath id="c66"><rect x="355.26" y="146.4" width="7.82" height="16.9"/></clipPath>
<path d="M359.17 168.02L346 154.85M359.17 168.02L372.34 154.85M362.1 165.09L348.93 151.92M356.24 165.09L369.41 151.92M365.02 162.16L351.86 149M353.32 162.16L366.48 149M367.95 159.24L354.78 146.07M350.39 159.24L363.56 146.07M370.88 156.31L357.71 143.14M347.46 156.31L360.63 143.14M373.81 153.38L360.64 140.21M344.53 153.38L357.7 140.21" stroke="#ff0000" stroke-width="0.85" fill="none" clip-path="url(#c66)"/>
<rect x="355.26" y="146.4" width="7.82" height="16.9" fill="none" stroke="#ff0000" stroke-width="1.1"/>
<clipPath id="c67"><rect x="363.08" y="148.7" width="7.82" height="16.7"/></clipPath>
<path d="M366.99 170.09L353.95 157.05M366.99 170.09L380.03 157.05M369.92 167.16L356.88 154.12M364.06 167.16L377.1 154.12M372.84 164.23L359.81 151.2M361.14 164.23L374.17 151.2M375.77 161.31L362.73 148.27M358.21 161.31L371.25 148.27M378.7 158.38L365.66 145.34M355.28 158.38L368.32 145.34M381.63 155.45L368.59 142.41M352.35 155.45L365.39 142.41" stroke="#ff0000" stroke-width="0.85" fill="none" clip-path="url(#c67)"/>
<rect x="363.08" y="148.7" width="7.82" height="16.7" fill="none" stroke="#ff0000" stroke-width="1.1"/>
<clipPath id="c68"><rect x="370.9" y="151.35" width="7.82" height="27.55"/></clipPath>
<path d="M374.81 185.38L354.56 165.12M374.81 185.38L395.06 165.12M377.74 182.45L357.49 162.2M371.88 182.45L392.13 162.2M380.66 179.52L360.41 159.27M368.96 179.52L389.21 159.27M383.59 176.59L363.34 156.34M366.03 176.59L386.28 156.34M386.52 173.67L366.27 153.42M363.1 173.67L383.35 153.42M389.45 170.74L369.2 150.49M360.17 170.74L380.42 150.49M392.37 167.81L372.12 147.56M357.25 167.81L377.5 147.56M395.3 164.88L375.05 144.63M354.32 164.88L374.57 144.63" stroke="#ff0000" stroke-width="0.85" fill="none" clip-path="url(#c68)"/>
<rect x="370.9" y="151.35" width="7.82" height="27.55" fill="none" stroke="#ff0000" stroke-width="1.1"/>
<clipPath id="c69"><rect x="378.72" y="154.9" width="7.82" height="19"/></clipPath>
<path d="M382.63 178.93L368.1 164.4M382.63 178.93L397.16 164.4M385.56 176L371.03 161.47M379.7 176L394.23 161.47M388.48 173.07L373.96 158.55M376.78 173.07L391.3 158.55M391.41 170.15L376.88 155.62M373.85 170.15L388.38 155.62M394.34 167.22L379.81 152.69M370.92 167.22L385.45 152.69M397.27 164.29L382.74 149.76M367.99 164.29L382.52 149.76" stroke="#ff0000" stroke-width="0.85" fill="none" clip-path="url(#c69)"/>
<rect x="378.72" y="154.9" width="7.82" height="19" fill="none" stroke="#ff0000" stroke-width="1.1"/>
<clipPath id="c70"><rect x="386.54" y="156" width="7.82" height="27.5"/></clipPath>
<path d="M390.45 189.97L370.23 169.75M390.45 189.97L410.67 169.75M393.38 187.04L373.16 166.82M387.52 187.04L407.74 166.82M396.3 184.11L376.09 163.9M384.6 184.11L404.81 163.9M399.23 181.18L379.02 160.97M381.67 181.18L401.88 160.97M402.16 178.26L381.94 158.04M378.74 178.26L398.96 158.04M405.09 175.33L384.87 155.11M375.81 175.33L396.03 155.11M408.01 172.4L387.8 152.19M372.89 172.4L393.1 152.19M410.94 169.47L390.73 149.26M369.96 169.47L390.17 149.26" stroke="#ff0000" stroke-width="0.85" fill="none" clip-path="url(#c70)"/>
<rect x="386.54" y="156" width="7.82" height="27.5" fill="none" stroke="#ff0000" stroke-width="1.1"/>
<clipPath id="c71"><rect x="394.36" y="159.9" width="7.82" height="30.9"/></clipPath>
<path d="M398.27 197.89L375.73 175.35M398.27 197.89L420.81 175.35M401.2 194.96L378.66 172.42M395.34 194.96L417.88 172.42M404.12 192.03L381.59 169.5M392.42 192.03L414.95 169.5M407.05 189.11L384.51 166.57M389.49 189.11L412.03 166.57M409.98 186.18L387.44 163.64M386.56 186.18L409.1 163.64M412.91 183.25L390.37 160.71M383.63 183.25L406.17 160.71M415.83 180.32L393.3 157.79M380.71 180.32L403.24 157.79M418.76 177.4L396.22 154.86M377.78 177.4L400.32 154.86M421.69 174.47L399.15 151.93M374.85 174.47L397.39 151.93" stroke="#ff0000" stroke-width="0.85" fill="none" clip-path="url(#c71)"/>
<rect x="394.36" y="159.9" width="7.82" height="30.9" fill="none" stroke="#ff0000" stroke-width="1.1"/>
<clipPath id="c72"><rect x="402.18" y="161.5" width="7.82" height="24.2"/></clipPath>
<path d="M406.09 191.58L388.11 173.6M406.09 191.58L424.07 173.6M409.02 188.66L391.03 170.67M403.16 188.66L421.15 170.67M411.94 185.73L393.96 167.75M400.24 185.73L418.22 167.75M414.87 182.8L396.89 164.82M397.31 182.8L415.29 164.82M417.8 179.87L399.82 161.89M394.38 179.87L412.36 161.89M420.73 176.95L402.74 158.96M391.45 176.95L409.44 158.96M423.65 174.02L405.67 156.04M388.53 174.02L406.51 156.04M426.58 171.09L408.6 153.11M385.6 171.09L403.58 153.11" stroke="#ff0000" stroke-width="0.85" fill="none" clip-path="url(#c72)"/>
<rect x="402.18" y="161.5" width="7.82" height="24.2" fill="none" stroke="#ff0000" stroke-width="1.1"/>
</g>
<path d="M128.48 39L128.48 39L136.3 39L136.3 46.8L144.12 46.8L144.12 53.4L151.94 53.4L151.94 58.9L159.76 58.9L159.76 63.6L167.58 63.6L167.58 68.3L175.4 68.3L175.4 72.5L183.22 72.5L183.22 76.3L191.04 76.3L191.04 80.2L198.86 80.2L198.86 83.7L206.68 83.7L206.68 87.4L214.5 87.4L214.5 90.7L222.32 90.7L222.32 93.6L230.14 93.6L230.14 96.5L237.96 96.5L237.96 99.5L245.78 99.5L245.78 102.3L253.6 102.3L253.6 105L261.42 105L261.42 107.5L269.24 107.5L269.24 110L277.06 110L277.06 112.3L284.88 112.3L284.88 115L292.7 115L292.7 117.7L300.52 117.7L300.52 120.1L308.34 120.1L308.34 122.6L316.16 122.6L316.16 125.2L323.98 125.2L323.98 127.3L331.8 127.3L331.8 129.6L339.62 129.6L339.62 132.1L347.44 132.1L347.44 134.3L355.26 134.3L355.26 136.75L363.08 136.75L363.08 138.9L370.9 138.9L370.9 141.25L378.72 141.25L378.72 143.55L386.54 143.55L386.54 145.7L394.36 145.7L394.36 148.2L402.18 148.2L402.18 150.2L410 150.2L410.4 150.2L410.4 220.1" fill="none" stroke="#0000ff" stroke-width="1.8" stroke-dasharray="4.25 2.1" stroke-dashoffset="4.55"/>
<path d="M128.48 220.1L128.48 43.6L128.48 43.6L136.3 43.6L136.3 49.5L144.12 49.5L144.12 55.6L151.94 55.6L151.94 61.1L159.76 61.1L159.76 65.8L167.58 65.8L167.58 70.4L175.4 70.4L175.4 74.8L183.22 74.8L183.22 78.5L191.04 78.5L191.04 82.4L198.86 82.4L198.86 86.2L206.68 86.2L206.68 89.7L214.5 89.7L214.5 93.1L222.32 93.1L222.32 96.3L230.14 96.3L230.14 99.3L237.96 99.3L237.96 102.6L245.78 102.6L245.78 105.8L253.6 105.8L253.6 108.4L261.42 108.4L261.42 112L269.24 112L269.24 114.8L277.06 114.8L277.06 117.6L284.88 117.6L284.88 120.3L292.7 120.3L292.7 123.9L300.52 123.9L300.52 126.7L308.34 126.7L308.34 129.6L316.16 129.6L316.16 132.3L323.98 132.3L323.98 135.9L331.8 135.9L331.8 138.4L339.62 138.4L339.62 140.4L347.44 140.4L347.44 142.9L355.26 142.9L355.26 146.4L363.08 146.4L363.08 148.7L370.9 148.7L370.9 151.35L378.72 151.35L378.72 154.9L386.54 154.9L386.54 156L394.36 156L394.36 159.9L402.18 159.9L402.18 161.5L410 161.5L410.4 161.5L410.4 220.1" fill="none" stroke="#ff0000" stroke-width="2.1" stroke-linejoin="miter"/>
</g>
<g clip-path="url(#ratclip)">
<clipPath id="c73"><rect x="128.48" y="246.3" width="7.82" height="9.6"/></clipPath>
<path d="M123.63 251.1L132.39 242.34M123.63 251.1L132.39 259.86M129.48 256.95L138.24 248.19M129.48 245.25L138.24 254.01M135.33 262.8L144.09 254.04M135.33 239.4L144.09 248.16" stroke="#4a3b37" stroke-width="0.85" fill="none" clip-path="url(#c73)"/>
<rect x="128.48" y="246.3" width="7.82" height="9.6" fill="none" stroke="#4a3b37" stroke-width="1.45"/>
<clipPath id="c74"><rect x="136.3" y="245.3" width="7.82" height="9.9"/></clipPath>
<path d="M131.29 250.25L140.21 241.33M131.29 250.25L140.21 259.17M137.14 256.1L146.06 247.18M137.14 244.4L146.06 253.32M142.98 261.95L151.91 253.02M142.98 238.55L151.91 247.48" stroke="#4a3b37" stroke-width="0.85" fill="none" clip-path="url(#c74)"/>
<rect x="136.3" y="245.3" width="7.82" height="9.9" fill="none" stroke="#4a3b37" stroke-width="1.45"/>
<clipPath id="c75"><rect x="144.12" y="244.7" width="7.82" height="10.1"/></clipPath>
<path d="M139 249.75L148.03 240.72M139 249.75L148.03 258.78M144.85 255.6L153.88 246.57M144.85 243.9L153.88 252.93M150.69 261.45L159.73 252.41M150.69 238.05L159.73 247.09" stroke="#4a3b37" stroke-width="0.85" fill="none" clip-path="url(#c75)"/>
<rect x="144.12" y="244.7" width="7.82" height="10.1" fill="none" stroke="#4a3b37" stroke-width="1.45"/>
<clipPath id="c76"><rect x="151.94" y="244.6" width="7.82" height="10.1"/></clipPath>
<path d="M146.82 249.65L155.85 240.62M146.82 249.65L155.85 258.68M152.67 255.5L161.7 246.47M152.67 243.8L161.7 252.83M158.51 261.35L167.55 252.31M158.51 237.95L167.55 246.99" stroke="#4a3b37" stroke-width="0.85" fill="none" clip-path="url(#c76)"/>
<rect x="151.94" y="244.6" width="7.82" height="10.1" fill="none" stroke="#4a3b37" stroke-width="1.45"/>
<clipPath id="c77"><rect x="159.76" y="244.4" width="7.82" height="9.9"/></clipPath>
<path d="M154.75 249.35L163.67 240.43M154.75 249.35L163.67 258.27M160.6 255.2L169.52 246.28M160.6 243.5L169.52 252.42M166.44 261.05L175.37 252.12M166.44 237.65L175.37 246.58" stroke="#4a3b37" stroke-width="0.85" fill="none" clip-path="url(#c77)"/>
<rect x="159.76" y="244.4" width="7.82" height="9.9" fill="none" stroke="#4a3b37" stroke-width="1.45"/>
<clipPath id="c78"><rect x="167.58" y="244.3" width="7.82" height="9.9"/></clipPath>
<path d="M162.57 249.25L171.49 240.33M162.57 249.25L171.49 258.17M168.42 255.1L177.34 246.18M168.42 243.4L177.34 252.32M174.26 260.95L183.19 252.02M174.26 237.55L183.19 246.48" stroke="#4a3b37" stroke-width="0.85" fill="none" clip-path="url(#c78)"/>
<rect x="167.58" y="244.3" width="7.82" height="9.9" fill="none" stroke="#4a3b37" stroke-width="1.45"/>
<clipPath id="c79"><rect x="175.4" y="244.3" width="7.82" height="9.6"/></clipPath>
<path d="M170.55 249.1L179.31 240.34M170.55 249.1L179.31 257.86M176.4 254.95L185.16 246.19M176.4 243.25L185.16 252.01M182.25 260.8L191.01 252.04M182.25 237.4L191.01 246.16" stroke="#4a3b37" stroke-width="0.85" fill="none" clip-path="url(#c79)"/>
<rect x="175.4" y="244.3" width="7.82" height="9.6" fill="none" stroke="#4a3b37" stroke-width="1.45"/>
<clipPath id="c80"><rect x="183.22" y="244.3" width="7.82" height="9.6"/></clipPath>
<path d="M178.37 249.1L187.13 240.34M178.37 249.1L187.13 257.86M184.22 254.95L192.98 246.19M184.22 243.25L192.98 252.01M190.07 260.8L198.83 252.04M190.07 237.4L198.83 246.16" stroke="#4a3b37" stroke-width="0.85" fill="none" clip-path="url(#c80)"/>
<rect x="183.22" y="244.3" width="7.82" height="9.6" fill="none" stroke="#4a3b37" stroke-width="1.45"/>
<clipPath id="c81"><rect x="191.04" y="244.3" width="7.82" height="9.6"/></clipPath>
<path d="M186.19 249.1L194.95 240.34M186.19 249.1L194.95 257.86M192.04 254.95L200.8 246.19M192.04 243.25L200.8 252.01M197.89 260.8L206.65 252.04M197.89 237.4L206.65 246.16" stroke="#4a3b37" stroke-width="0.85" fill="none" clip-path="url(#c81)"/>
<rect x="191.04" y="244.3" width="7.82" height="9.6" fill="none" stroke="#4a3b37" stroke-width="1.45"/>
<clipPath id="c82"><rect x="198.86" y="244.6" width="7.82" height="9.3"/></clipPath>
<path d="M194.18 249.25L202.77 240.66M194.18 249.25L202.77 257.84M200.03 255.1L208.62 246.51M200.03 243.4L208.62 251.99M205.87 260.95L214.47 252.35M205.87 237.55L214.47 246.15" stroke="#4a3b37" stroke-width="0.85" fill="none" clip-path="url(#c82)"/>
<rect x="198.86" y="244.6" width="7.82" height="9.3" fill="none" stroke="#4a3b37" stroke-width="1.45"/>
<clipPath id="c83"><rect x="206.68" y="244.8" width="7.82" height="9.7"/></clipPath>
<path d="M201.78 249.65L210.59 240.84M201.78 249.65L210.59 258.46M207.63 255.5L216.44 246.69M207.63 243.8L216.44 252.61M213.48 261.35L222.29 252.54M213.48 237.95L222.29 246.76" stroke="#4a3b37" stroke-width="0.85" fill="none" clip-path="url(#c83)"/>
<rect x="206.68" y="244.8" width="7.82" height="9.7" fill="none" stroke="#4a3b37" stroke-width="1.45"/>
<clipPath id="c84"><rect x="214.5" y="245" width="7.82" height="9.5"/></clipPath>
<path d="M209.71 249.75L218.41 241.05M209.71 249.75L218.41 258.45M215.56 255.6L224.26 246.9M215.56 243.9L224.26 252.6M221.4 261.45L230.11 252.74M221.4 238.05L230.11 246.76" stroke="#4a3b37" stroke-width="0.85" fill="none" clip-path="url(#c84)"/>
<rect x="214.5" y="245" width="7.82" height="9.5" fill="none" stroke="#4a3b37" stroke-width="1.45"/>
<clipPath id="c85"><rect x="222.32" y="245.3" width="7.82" height="9.4"/></clipPath>
<path d="M217.58 250L226.23 241.35M217.58 250L226.23 258.65M223.43 255.85L232.08 247.2M223.43 244.15L232.08 252.8M229.28 261.7L237.93 253.05M229.28 238.3L237.93 246.95" stroke="#4a3b37" stroke-width="0.85" fill="none" clip-path="url(#c85)"/>
<rect x="222.32" y="245.3" width="7.82" height="9.4" fill="none" stroke="#4a3b37" stroke-width="1.45"/>
<clipPath id="c86"><rect x="230.14" y="245.6" width="7.82" height="9.1"/></clipPath>
<path d="M225.57 250.15L234.05 241.67M225.57 250.15L234.05 258.63M231.41 256L239.9 247.51M231.41 244.3L239.9 252.79M237.26 261.85L245.75 253.36M237.26 238.45L245.75 246.94" stroke="#4a3b37" stroke-width="0.85" fill="none" clip-path="url(#c86)"/>
<rect x="230.14" y="245.6" width="7.82" height="9.1" fill="none" stroke="#4a3b37" stroke-width="1.45"/>
<clipPath id="c87"><rect x="237.96" y="246" width="7.82" height="8.9"/></clipPath>
<path d="M233.49 250.45L241.87 242.07M233.49 250.45L241.87 258.83M239.34 256.3L247.72 247.92M239.34 244.6L247.72 252.98M245.19 262.15L253.57 253.77M245.19 238.75L253.57 247.13" stroke="#4a3b37" stroke-width="0.85" fill="none" clip-path="url(#c87)"/>
<rect x="237.96" y="246" width="7.82" height="8.9" fill="none" stroke="#4a3b37" stroke-width="1.45"/>
<clipPath id="c88"><rect x="245.78" y="246" width="7.82" height="9.2"/></clipPath>
<path d="M241.15 250.6L249.69 242.06M241.15 250.6L249.69 259.14M247 256.45L255.54 247.91M247 244.75L255.54 253.29M252.85 262.3L261.39 253.76M252.85 238.9L261.39 247.44" stroke="#4a3b37" stroke-width="0.85" fill="none" clip-path="url(#c88)"/>
<rect x="245.78" y="246" width="7.82" height="9.2" fill="none" stroke="#4a3b37" stroke-width="1.45"/>
<clipPath id="c89"><rect x="253.6" y="245.8" width="7.82" height="9.4"/></clipPath>
<path d="M248.86 250.5L257.51 241.85M248.86 250.5L257.51 259.15M254.71 256.35L263.36 247.7M254.71 244.65L263.36 253.3M260.56 262.2L269.21 253.55M260.56 238.8L269.21 247.45" stroke="#4a3b37" stroke-width="0.85" fill="none" clip-path="url(#c89)"/>
<rect x="253.6" y="245.8" width="7.82" height="9.4" fill="none" stroke="#4a3b37" stroke-width="1.45"/>
<clipPath id="c90"><rect x="261.42" y="246.3" width="7.82" height="10.4"/></clipPath>
<path d="M256.13 251.5L265.33 242.3M256.13 251.5L265.33 260.7M261.98 257.35L271.18 248.15M261.98 245.65L271.18 254.85M267.82 263.2L277.03 253.99M267.82 239.8L277.03 249.01" stroke="#4a3b37" stroke-width="0.85" fill="none" clip-path="url(#c90)"/>
<rect x="261.42" y="246.3" width="7.82" height="10.4" fill="none" stroke="#4a3b37" stroke-width="1.45"/>
<clipPath id="c91"><rect x="269.24" y="246.8" width="7.82" height="9.7"/></clipPath>
<path d="M264.34 251.65L273.15 242.84M264.34 251.65L273.15 260.46M270.19 257.5L279 248.69M270.19 245.8L279 254.61M276.04 263.35L284.85 254.54M276.04 239.95L284.85 248.76" stroke="#4a3b37" stroke-width="0.85" fill="none" clip-path="url(#c91)"/>
<rect x="269.24" y="246.8" width="7.82" height="9.7" fill="none" stroke="#4a3b37" stroke-width="1.45"/>
<clipPath id="c92"><rect x="277.06" y="247.3" width="7.82" height="9.2"/></clipPath>
<path d="M272.43 251.9L280.97 243.36M272.43 251.9L280.97 260.44M278.28 257.75L286.82 249.21M278.28 246.05L286.82 254.59M284.13 263.6L292.67 255.06M284.13 240.2L292.67 248.74" stroke="#4a3b37" stroke-width="0.85" fill="none" clip-path="url(#c92)"/>
<rect x="277.06" y="247.3" width="7.82" height="9.2" fill="none" stroke="#4a3b37" stroke-width="1.45"/>
<clipPath id="c93"><rect x="284.88" y="247.6" width="7.82" height="9.15"/></clipPath>
<path d="M280.28 252.18L288.79 243.66M280.28 252.18L288.79 260.69M286.13 258.02L294.64 249.51M286.13 246.33L294.64 254.84M291.97 263.87L300.49 255.36M291.97 240.48L300.49 248.99" stroke="#4a3b37" stroke-width="0.85" fill="none" clip-path="url(#c93)"/>
<rect x="284.88" y="247.6" width="7.82" height="9.15" fill="none" stroke="#4a3b37" stroke-width="1.45"/>
<clipPath id="c94"><rect x="292.7" y="247.8" width="7.82" height="10.4"/></clipPath>
<path d="M287.41 253L296.61 243.8M287.41 253L296.61 262.2M293.26 258.85L302.46 249.65M293.26 247.15L302.46 256.35M299.1 264.7L308.31 255.49M299.1 241.3L308.31 250.51" stroke="#4a3b37" stroke-width="0.85" fill="none" clip-path="url(#c94)"/>
<rect x="292.7" y="247.8" width="7.82" height="10.4" fill="none" stroke="#4a3b37" stroke-width="1.45"/>
<clipPath id="c95"><rect x="300.52" y="249.8" width="7.82" height="8.1"/></clipPath>
<path d="M296.47 253.85L304.43 245.89M296.47 253.85L304.43 261.81M302.32 259.7L310.28 251.74M302.32 248L310.28 255.96M308.16 265.55L316.13 257.58M308.16 242.15L316.13 250.12" stroke="#4a3b37" stroke-width="0.85" fill="none" clip-path="url(#c95)"/>
<rect x="300.52" y="249.8" width="7.82" height="8.1" fill="none" stroke="#4a3b37" stroke-width="1.45"/>
<clipPath id="c96"><rect x="308.34" y="250.3" width="7.82" height="7.6"/></clipPath>
<path d="M304.54 254.1L312.25 246.39M304.54 254.1L312.25 261.81M310.39 259.95L318.1 252.24M310.39 248.25L318.1 255.96M316.23 265.8L323.95 258.08M316.23 242.4L323.95 250.12" stroke="#4a3b37" stroke-width="0.85" fill="none" clip-path="url(#c96)"/>
<rect x="308.34" y="250.3" width="7.82" height="7.6" fill="none" stroke="#4a3b37" stroke-width="1.45"/>
<clipPath id="c97"><rect x="316.16" y="250.4" width="7.82" height="7.5"/></clipPath>
<path d="M312.41 254.15L320.07 246.49M312.41 254.15L320.07 261.81M318.26 260L325.92 252.34M318.26 248.3L325.92 255.96M324.1 265.85L331.77 258.18M324.1 242.45L331.77 250.12" stroke="#4a3b37" stroke-width="0.85" fill="none" clip-path="url(#c97)"/>
<rect x="316.16" y="250.4" width="7.82" height="7.5" fill="none" stroke="#4a3b37" stroke-width="1.45"/>
<clipPath id="c98"><rect x="323.98" y="250.6" width="7.82" height="8"/></clipPath>
<path d="M319.98 254.6L327.89 246.69M319.98 254.6L327.89 262.51M325.83 260.45L333.74 252.54M325.83 248.75L333.74 256.66M331.68 266.3L339.59 258.39M331.68 242.9L339.59 250.81" stroke="#4a3b37" stroke-width="0.85" fill="none" clip-path="url(#c98)"/>
<rect x="323.98" y="250.6" width="7.82" height="8" fill="none" stroke="#4a3b37" stroke-width="1.45"/>
<clipPath id="c99"><rect x="331.8" y="251.6" width="7.82" height="6.7"/></clipPath>
<path d="M328.43 254.95L335.71 247.67M328.43 254.95L335.71 262.23M334.28 260.8L341.56 253.52M334.28 249.1L341.56 256.38M340.12 266.65L347.41 259.36M340.12 243.25L347.41 250.54" stroke="#4a3b37" stroke-width="0.85" fill="none" clip-path="url(#c99)"/>
<rect x="331.8" y="251.6" width="7.82" height="6.7" fill="none" stroke="#4a3b37" stroke-width="1.45"/>
<clipPath id="c100"><rect x="339.62" y="250.4" width="7.82" height="8.4"/></clipPath>
<path d="M335.41 254.6L343.53 246.48M335.41 254.6L343.53 262.72M341.26 260.45L349.38 252.33M341.26 248.75L349.38 256.87M347.11 266.3L355.23 258.18M347.11 242.9L355.23 251.02" stroke="#4a3b37" stroke-width="0.85" fill="none" clip-path="url(#c100)"/>
<rect x="339.62" y="250.4" width="7.82" height="8.4" fill="none" stroke="#4a3b37" stroke-width="1.45"/>
<clipPath id="c101"><rect x="347.44" y="250.9" width="7.82" height="8.4"/></clipPath>
<path d="M343.23 255.1L351.35 246.98M343.23 255.1L351.35 263.22M349.08 260.95L357.2 252.83M349.08 249.25L357.2 257.37M354.93 266.8L363.05 258.68M354.93 243.4L363.05 251.52" stroke="#4a3b37" stroke-width="0.85" fill="none" clip-path="url(#c101)"/>
<rect x="347.44" y="250.9" width="7.82" height="8.4" fill="none" stroke="#4a3b37" stroke-width="1.45"/>
<clipPath id="c102"><rect x="355.26" y="251.8" width="7.82" height="8.2"/></clipPath>
<path d="M351.16 255.9L359.17 247.89M351.16 255.9L359.17 263.91M357.01 261.75L365.02 253.74M357.01 250.05L365.02 258.06M362.85 267.6L370.87 259.58M362.85 244.2L370.87 252.22" stroke="#4a3b37" stroke-width="0.85" fill="none" clip-path="url(#c102)"/>
<rect x="355.26" y="251.8" width="7.82" height="8.2" fill="none" stroke="#4a3b37" stroke-width="1.45"/>
<clipPath id="c103"><rect x="363.08" y="252.7" width="7.82" height="6.6"/></clipPath>
<path d="M359.75 256L366.99 248.76M359.75 256L366.99 263.24M365.6 261.85L372.84 254.61M365.6 250.15L372.84 257.39M371.45 267.7L378.69 260.46M371.45 244.3L378.69 251.54" stroke="#4a3b37" stroke-width="0.85" fill="none" clip-path="url(#c103)"/>
<rect x="363.08" y="252.7" width="7.82" height="6.6" fill="none" stroke="#4a3b37" stroke-width="1.45"/>
<clipPath id="c104"><rect x="370.9" y="253" width="7.82" height="8.6"/></clipPath>
<path d="M366.59 257.3L374.81 249.08M366.59 257.3L374.81 265.52M372.44 263.15L380.66 254.93M372.44 251.45L380.66 259.67M378.29 269L386.51 260.78M378.29 245.6L386.51 253.82" stroke="#4a3b37" stroke-width="0.85" fill="none" clip-path="url(#c104)"/>
<rect x="370.9" y="253" width="7.82" height="8.6" fill="none" stroke="#4a3b37" stroke-width="1.45"/>
<clipPath id="c105"><rect x="378.72" y="253.3" width="7.82" height="7.2"/></clipPath>
<path d="M375.11 256.9L382.63 249.38M375.11 256.9L382.63 264.42M380.96 262.75L388.48 255.23M380.96 251.05L388.48 258.57M386.81 268.6L394.33 261.08M386.81 245.2L394.33 252.72" stroke="#4a3b37" stroke-width="0.85" fill="none" clip-path="url(#c105)"/>
<rect x="378.72" y="253.3" width="7.82" height="7.2" fill="none" stroke="#4a3b37" stroke-width="1.45"/>
<clipPath id="c106"><rect x="386.54" y="254.4" width="7.82" height="7.2"/></clipPath>
<path d="M382.93 258L390.45 250.48M382.93 258L390.45 265.52M388.78 263.85L396.3 256.33M388.78 252.15L396.3 259.67M394.63 269.7L402.15 262.18M394.63 246.3L402.15 253.82" stroke="#4a3b37" stroke-width="0.85" fill="none" clip-path="url(#c106)"/>
<rect x="386.54" y="254.4" width="7.82" height="7.2" fill="none" stroke="#4a3b37" stroke-width="1.45"/>
<clipPath id="c107"><rect x="394.36" y="254.3" width="7.82" height="8.9"/></clipPath>
<path d="M389.89 258.75L398.27 250.37M389.89 258.75L398.27 267.13M395.74 264.6L404.12 256.22M395.74 252.9L404.12 261.28M401.59 270.45L409.97 262.07M401.59 247.05L409.97 255.43" stroke="#4a3b37" stroke-width="0.85" fill="none" clip-path="url(#c107)"/>
<rect x="394.36" y="254.3" width="7.82" height="8.9" fill="none" stroke="#4a3b37" stroke-width="1.45"/>
<clipPath id="c108"><rect x="402.18" y="256.3" width="7.82" height="5"/></clipPath>
<path d="M399.53 258.8L406.09 252.24M399.53 258.8L406.09 265.36M405.37 264.65L411.94 258.08M405.37 252.95L411.94 259.52M411.22 270.5L417.79 263.93M411.22 247.1L417.79 253.67" stroke="#4a3b37" stroke-width="0.85" fill="none" clip-path="url(#c108)"/>
<rect x="402.18" y="256.3" width="7.82" height="5" fill="none" stroke="#4a3b37" stroke-width="1.45"/>
<clipPath id="c109"><rect x="128.48" y="243.4" width="7.82" height="2.9"/></clipPath>
<path d="M126.49 244.85L132.39 238.95M126.49 244.85L132.39 250.75M132.34 250.7L138.24 244.8M132.34 239L138.24 244.9M138.19 256.55L144.09 250.65M138.19 233.15L144.09 239.05" stroke="#4a3b37" stroke-width="0.85" fill="none" clip-path="url(#c109)"/>
<rect x="128.48" y="243.4" width="7.82" height="2.9" fill="none" stroke="#4a3b37" stroke-width="1.45"/>
<clipPath id="c110"><rect x="136.3" y="239.9" width="7.82" height="5.4"/></clipPath>
<path d="M133.49 242.6L140.21 235.88M133.49 242.6L140.21 249.32M139.34 248.45L146.06 241.73M139.34 236.75L146.06 243.47M145.19 254.3L151.91 247.58M145.19 230.9L151.91 237.62" stroke="#4a3b37" stroke-width="0.85" fill="none" clip-path="url(#c110)"/>
<rect x="136.3" y="239.9" width="7.82" height="5.4" fill="none" stroke="#4a3b37" stroke-width="1.45"/>
<clipPath id="c111"><rect x="144.12" y="237.9" width="7.82" height="6.8"/></clipPath>
<path d="M140.7 241.3L148.03 233.97M140.7 241.3L148.03 248.63M146.55 247.15L153.88 239.82M146.55 235.45L153.88 242.78M152.4 253L159.73 245.67M152.4 229.6L159.73 236.93" stroke="#4a3b37" stroke-width="0.85" fill="none" clip-path="url(#c111)"/>
<rect x="144.12" y="237.9" width="7.82" height="6.8" fill="none" stroke="#4a3b37" stroke-width="1.45"/>
<clipPath id="c112"><rect x="151.94" y="237.1" width="7.82" height="7.5"/></clipPath>
<path d="M148.19 240.85L155.85 233.19M148.19 240.85L155.85 248.51M154.04 246.7L161.7 239.04M154.04 235L161.7 242.66M159.88 252.55L167.55 244.88M159.88 229.15L167.55 236.82" stroke="#4a3b37" stroke-width="0.85" fill="none" clip-path="url(#c112)"/>
<rect x="151.94" y="237.1" width="7.82" height="7.5" fill="none" stroke="#4a3b37" stroke-width="1.45"/>
<clipPath id="c113"><rect x="159.76" y="234.8" width="7.82" height="9.6"/></clipPath>
<path d="M154.91 239.6L163.67 230.84M154.91 239.6L163.67 248.36M160.76 245.45L169.52 236.69M160.76 233.75L169.52 242.51M166.61 251.3L175.37 242.54M166.61 227.9L175.37 236.66" stroke="#4a3b37" stroke-width="0.85" fill="none" clip-path="url(#c113)"/>
<rect x="159.76" y="234.8" width="7.82" height="9.6" fill="none" stroke="#4a3b37" stroke-width="1.45"/>
<clipPath id="c114"><rect x="167.58" y="235.4" width="7.82" height="8.9"/></clipPath>
<path d="M163.11 239.85L171.49 231.47M163.11 239.85L171.49 248.23M168.96 245.7L177.34 237.32M168.96 234L177.34 242.38M174.81 251.55L183.19 243.17M174.81 228.15L183.19 236.53" stroke="#4a3b37" stroke-width="0.85" fill="none" clip-path="url(#c114)"/>
<rect x="167.58" y="235.4" width="7.82" height="8.9" fill="none" stroke="#4a3b37" stroke-width="1.45"/>
<clipPath id="c115"><rect x="175.4" y="235.1" width="7.82" height="9.2"/></clipPath>
<path d="M170.77 239.7L179.31 231.16M170.77 239.7L179.31 248.24M176.62 245.55L185.16 237.01M176.62 233.85L185.16 242.39M182.47 251.4L191.01 242.86M182.47 228L191.01 236.54" stroke="#4a3b37" stroke-width="0.85" fill="none" clip-path="url(#c115)"/>
<rect x="175.4" y="235.1" width="7.82" height="9.2" fill="none" stroke="#4a3b37" stroke-width="1.45"/>
<clipPath id="c116"><rect x="183.22" y="234.7" width="7.82" height="9.6"/></clipPath>
<path d="M178.37 239.5L187.13 230.74M178.37 239.5L187.13 248.26M184.22 245.35L192.98 236.59M184.22 233.65L192.98 242.41M190.07 251.2L198.83 242.44M190.07 227.8L198.83 236.56" stroke="#4a3b37" stroke-width="0.85" fill="none" clip-path="url(#c116)"/>
<rect x="183.22" y="234.7" width="7.82" height="9.6" fill="none" stroke="#4a3b37" stroke-width="1.45"/>
<clipPath id="c117"><rect x="191.04" y="234.4" width="7.82" height="9.9"/></clipPath>
<path d="M186.03 239.35L194.95 230.43M186.03 239.35L194.95 248.27M191.88 245.2L200.8 236.28M191.88 233.5L200.8 242.42M197.72 251.05L206.65 242.12M197.72 227.65L206.65 236.58" stroke="#4a3b37" stroke-width="0.85" fill="none" clip-path="url(#c117)"/>
<rect x="191.04" y="234.4" width="7.82" height="9.9" fill="none" stroke="#4a3b37" stroke-width="1.45"/>
<clipPath id="c118"><rect x="198.86" y="235.4" width="7.82" height="9.2"/></clipPath>
<path d="M194.23 240L202.77 231.46M194.23 240L202.77 248.54M200.08 245.85L208.62 237.31M200.08 234.15L208.62 242.69M205.93 251.7L214.47 243.16M205.93 228.3L214.47 236.84" stroke="#4a3b37" stroke-width="0.85" fill="none" clip-path="url(#c118)"/>
<rect x="198.86" y="235.4" width="7.82" height="9.2" fill="none" stroke="#4a3b37" stroke-width="1.45"/>
<clipPath id="c119"><rect x="206.68" y="235.4" width="7.82" height="9.4"/></clipPath>
<path d="M201.94 240.1L210.59 231.45M201.94 240.1L210.59 248.75M207.79 245.95L216.44 237.3M207.79 234.25L216.44 242.9M213.64 251.8L222.29 243.15M213.64 228.4L222.29 237.05" stroke="#4a3b37" stroke-width="0.85" fill="none" clip-path="url(#c119)"/>
<rect x="206.68" y="235.4" width="7.82" height="9.4" fill="none" stroke="#4a3b37" stroke-width="1.45"/>
<clipPath id="c120"><rect x="214.5" y="237.4" width="7.82" height="7.6"/></clipPath>
<path d="M210.7 241.2L218.41 233.49M210.7 241.2L218.41 248.91M216.55 247.05L224.26 239.34M216.55 235.35L224.26 243.06M222.39 252.9L230.11 245.18M222.39 229.5L230.11 237.22" stroke="#4a3b37" stroke-width="0.85" fill="none" clip-path="url(#c120)"/>
<rect x="214.5" y="237.4" width="7.82" height="7.6" fill="none" stroke="#4a3b37" stroke-width="1.45"/>
<clipPath id="c121"><rect x="222.32" y="238.4" width="7.82" height="6.9"/></clipPath>
<path d="M218.86 241.85L226.23 234.48M218.86 241.85L226.23 249.22M224.7 247.7L232.08 240.32M224.7 236L232.08 243.38M230.55 253.55L237.93 246.17M230.55 230.15L237.93 237.53" stroke="#4a3b37" stroke-width="0.85" fill="none" clip-path="url(#c121)"/>
<rect x="222.32" y="238.4" width="7.82" height="6.9" fill="none" stroke="#4a3b37" stroke-width="1.45"/>
<clipPath id="c122"><rect x="230.14" y="238.4" width="7.82" height="7.2"/></clipPath>
<path d="M226.53 242L234.05 234.48M226.53 242L234.05 249.52M232.38 247.85L239.9 240.33M232.38 236.15L239.9 243.67M238.23 253.7L245.75 246.18M238.23 230.3L245.75 237.82" stroke="#4a3b37" stroke-width="0.85" fill="none" clip-path="url(#c122)"/>
<rect x="230.14" y="238.4" width="7.82" height="7.2" fill="none" stroke="#4a3b37" stroke-width="1.45"/>
<clipPath id="c123"><rect x="237.96" y="239.4" width="7.82" height="6.6"/></clipPath>
<path d="M234.63 242.7L241.87 235.46M234.63 242.7L241.87 249.94M240.48 248.55L247.72 241.31M240.48 236.85L247.72 244.09M246.33 254.4L253.57 247.16M246.33 231L253.57 238.24" stroke="#4a3b37" stroke-width="0.85" fill="none" clip-path="url(#c123)"/>
<rect x="237.96" y="239.4" width="7.82" height="6.6" fill="none" stroke="#4a3b37" stroke-width="1.45"/>
<clipPath id="c124"><rect x="245.78" y="239.6" width="7.82" height="6.4"/></clipPath>
<path d="M242.54 242.8L249.69 235.65M242.54 242.8L249.69 249.95M248.39 248.65L255.54 241.5M248.39 236.95L255.54 244.1M254.24 254.5L261.39 247.35M254.24 231.1L261.39 238.25" stroke="#4a3b37" stroke-width="0.85" fill="none" clip-path="url(#c124)"/>
<rect x="245.78" y="239.6" width="7.82" height="6.4" fill="none" stroke="#4a3b37" stroke-width="1.45"/>
<clipPath id="c125"><rect x="253.6" y="242.4" width="7.82" height="3.4"/></clipPath>
<path d="M251.48 244.1L257.51 238.07M251.48 244.1L257.51 250.13M257.33 249.95L263.36 243.92M257.33 238.25L263.36 244.28M263.18 255.8L269.21 249.77M263.18 232.4L269.21 238.43" stroke="#4a3b37" stroke-width="0.85" fill="none" clip-path="url(#c125)"/>
<rect x="253.6" y="242.4" width="7.82" height="3.4" fill="none" stroke="#4a3b37" stroke-width="1.45"/>
<clipPath id="c126"><rect x="261.42" y="242.4" width="7.82" height="3.9"/></clipPath>
<path d="M259.15 244.35L265.33 238.17M259.15 244.35L265.33 250.53M265 250.2L271.18 244.02M265 238.5L271.18 244.68M270.85 256.05L277.03 249.87M270.85 232.65L277.03 238.83" stroke="#4a3b37" stroke-width="0.85" fill="none" clip-path="url(#c126)"/>
<rect x="261.42" y="242.4" width="7.82" height="3.9" fill="none" stroke="#4a3b37" stroke-width="1.45"/>
<clipPath id="c127"><rect x="269.24" y="244.4" width="7.82" height="2.4"/></clipPath>
<path d="M267.37 245.6L273.15 239.82M267.37 245.6L273.15 251.38M273.21 251.45L279 245.66M273.21 239.75L279 245.54" stroke="#4a3b37" stroke-width="0.85" fill="none" clip-path="url(#c127)"/>
<rect x="269.24" y="244.4" width="7.82" height="2.4" fill="none" stroke="#4a3b37" stroke-width="1.45"/>
<clipPath id="c128"><rect x="277.06" y="244.85" width="7.82" height="2.45"/></clipPath>
<path d="M275.18 246.07L280.97 240.28M275.18 246.07L280.97 251.87M281.02 251.92L286.82 246.13M281.02 240.23L286.82 246.02" stroke="#4a3b37" stroke-width="0.85" fill="none" clip-path="url(#c128)"/>
<rect x="277.06" y="244.85" width="7.82" height="2.45" fill="none" stroke="#4a3b37" stroke-width="1.45"/>
<clipPath id="c129"><rect x="284.88" y="244.9" width="7.82" height="2.7"/></clipPath>
<path d="M282.94 246.25L288.79 240.4M282.94 246.25L288.79 252.1M288.79 252.1L294.64 246.25M288.79 240.4L294.64 246.25M294.64 257.95L300.49 252.1M294.64 234.55L300.49 240.4" stroke="#4a3b37" stroke-width="0.85" fill="none" clip-path="url(#c129)"/>
<rect x="284.88" y="244.9" width="7.82" height="2.7" fill="none" stroke="#4a3b37" stroke-width="1.45"/>
<clipPath id="c130"><rect x="292.7" y="245.4" width="7.82" height="2.4"/></clipPath>
<path d="M290.83 246.6L296.61 240.82M290.83 246.6L296.61 252.38M296.67 252.45L302.46 246.66M296.67 240.75L302.46 246.54" stroke="#4a3b37" stroke-width="0.85" fill="none" clip-path="url(#c130)"/>
<rect x="292.7" y="245.4" width="7.82" height="2.4" fill="none" stroke="#4a3b37" stroke-width="1.45"/>
<clipPath id="c131"><rect x="300.52" y="247.8" width="7.82" height="2"/></clipPath>
<path d="M298.72 248.8L304.43 243.09M298.72 248.8L304.43 254.51M304.57 254.65L310.28 248.94M304.57 242.95L310.28 248.66" stroke="#4a3b37" stroke-width="0.85" fill="none" clip-path="url(#c131)"/>
<rect x="300.52" y="247.8" width="7.82" height="2" fill="none" stroke="#4a3b37" stroke-width="1.45"/>
<clipPath id="c132"><rect x="308.34" y="249.3" width="7.82" height="1"/></clipPath>
<path d="M306.68 249.8L312.25 244.23M306.68 249.8L312.25 255.37M312.52 255.65L318.1 250.07M312.52 243.95L318.1 249.53" stroke="#4a3b37" stroke-width="0.85" fill="none" clip-path="url(#c132)"/>
<rect x="308.34" y="249.3" width="7.82" height="1" fill="none" stroke="#4a3b37" stroke-width="1.45"/>
<clipPath id="c133"><rect x="316.16" y="249.6" width="7.82" height="0.8"/></clipPath>
<path d="M314.51 250L320.07 244.44M314.51 250L320.07 255.56M320.36 255.85L325.92 250.29M320.36 244.15L325.92 249.71" stroke="#4a3b37" stroke-width="0.85" fill="none" clip-path="url(#c133)"/>
<rect x="316.16" y="249.6" width="7.82" height="0.8" fill="none" stroke="#4a3b37" stroke-width="1.45"/>
<clipPath id="c134"><rect x="323.98" y="249.9" width="7.82" height="0.7"/></clipPath>
<path d="M322.34 250.25L327.89 244.7M322.34 250.25L327.89 255.8M328.19 256.1L333.74 250.55M328.19 244.4L333.74 249.95" stroke="#4a3b37" stroke-width="0.85" fill="none" clip-path="url(#c134)"/>
<rect x="323.98" y="249.9" width="7.82" height="0.7" fill="none" stroke="#4a3b37" stroke-width="1.45"/>
<clipPath id="c135"><rect x="331.8" y="251.3" width="7.82" height="0.3"/></clipPath>
<path d="M330.18 251.45L335.71 245.92M330.18 251.45L335.71 256.98M336.02 257.3L341.56 251.76M336.02 245.6L341.56 251.14" stroke="#4a3b37" stroke-width="0.85" fill="none" clip-path="url(#c135)"/>
<rect x="331.8" y="251.3" width="7.82" height="0.3" fill="none" stroke="#4a3b37" stroke-width="1.45"/>
<clipPath id="c136"><rect x="339.62" y="249.7" width="7.82" height="0.7"/></clipPath>
<path d="M337.98 250.05L343.53 244.5M337.98 250.05L343.53 255.6M343.83 255.9L349.38 250.35M343.83 244.2L349.38 249.75" stroke="#4a3b37" stroke-width="0.85" fill="none" clip-path="url(#c136)"/>
<rect x="339.62" y="249.7" width="7.82" height="0.7" fill="none" stroke="#4a3b37" stroke-width="1.45"/>
<clipPath id="c137"><rect x="347.44" y="250.2" width="7.82" height="0.7"/></clipPath>
<path d="M345.8 250.55L351.35 245M345.8 250.55L351.35 256.1M351.65 256.4L357.2 250.85M351.65 244.7L357.2 250.25" stroke="#4a3b37" stroke-width="0.85" fill="none" clip-path="url(#c137)"/>
<rect x="347.44" y="250.2" width="7.82" height="0.7" fill="none" stroke="#4a3b37" stroke-width="1.45"/>
<clipPath id="c138"><rect x="355.26" y="251.3" width="7.82" height="0.5"/></clipPath>
<path d="M353.63 251.55L359.17 246.01M353.63 251.55L359.17 257.09M359.48 257.4L365.02 251.86M359.48 245.7L365.02 251.24" stroke="#4a3b37" stroke-width="0.85" fill="none" clip-path="url(#c138)"/>
<rect x="355.26" y="251.3" width="7.82" height="0.5" fill="none" stroke="#4a3b37" stroke-width="1.45"/>
<clipPath id="c139"><rect x="363.08" y="252.35" width="7.82" height="0.35"/></clipPath>
<path d="M361.45 252.52L366.99 246.99M361.45 252.52L366.99 258.06M367.3 258.37L372.84 252.84M367.3 246.68L372.84 252.21" stroke="#4a3b37" stroke-width="0.85" fill="none" clip-path="url(#c139)"/>
<rect x="363.08" y="252.35" width="7.82" height="0.35" fill="none" stroke="#4a3b37" stroke-width="1.45"/>
<clipPath id="c140"><rect x="370.9" y="252.5" width="7.82" height="0.5"/></clipPath>
<path d="M369.27 252.75L374.81 247.21M369.27 252.75L374.81 258.29M375.12 258.6L380.66 253.06M375.12 246.9L380.66 252.44" stroke="#4a3b37" stroke-width="0.85" fill="none" clip-path="url(#c140)"/>
<rect x="370.9" y="252.5" width="7.82" height="0.5" fill="none" stroke="#4a3b37" stroke-width="1.45"/>
<clipPath id="c141"><rect x="378.72" y="252.85" width="7.82" height="0.45"/></clipPath>
<path d="M377.09 253.07L382.63 247.54M377.09 253.07L382.63 258.61M382.94 258.92L388.48 253.38M382.94 247.23L388.48 252.77" stroke="#4a3b37" stroke-width="0.85" fill="none" clip-path="url(#c141)"/>
<rect x="378.72" y="252.85" width="7.82" height="0.45" fill="none" stroke="#4a3b37" stroke-width="1.45"/>
<clipPath id="c142"><rect x="386.54" y="254" width="7.82" height="0.4"/></clipPath>
<path d="M384.91 254.2L390.45 248.66M384.91 254.2L390.45 259.74M390.76 260.05L396.3 254.51M390.76 248.35L396.3 253.89" stroke="#4a3b37" stroke-width="0.85" fill="none" clip-path="url(#c142)"/>
<rect x="386.54" y="254" width="7.82" height="0.4" fill="none" stroke="#4a3b37" stroke-width="1.45"/>
<clipPath id="c143"><rect x="394.36" y="253.8" width="7.82" height="0.5"/></clipPath>
<path d="M392.73 254.05L398.27 248.51M392.73 254.05L398.27 259.59M398.58 259.9L404.12 254.36M398.58 248.2L404.12 253.74" stroke="#4a3b37" stroke-width="0.85" fill="none" clip-path="url(#c143)"/>
<rect x="394.36" y="253.8" width="7.82" height="0.5" fill="none" stroke="#4a3b37" stroke-width="1.45"/>
<clipPath id="c144"><rect x="402.18" y="252.85" width="7.82" height="3.45"/></clipPath>
<path d="M400.05 254.57L406.09 248.53M400.05 254.57L406.09 260.62M405.89 260.42L411.94 254.38M405.89 248.73L411.94 254.77M411.74 266.27L417.79 260.23M411.74 242.88L417.79 248.92" stroke="#4a3b37" stroke-width="0.85" fill="none" clip-path="url(#c144)"/>
<rect x="402.18" y="252.85" width="7.82" height="3.45" fill="none" stroke="#4a3b37" stroke-width="1.45"/>
<path d="M128.48 271.9L128.48 246.3L128.48 246.3L136.3 246.3L136.3 245.3L144.12 245.3L144.12 244.7L151.94 244.7L151.94 244.6L159.76 244.6L159.76 244.4L167.58 244.4L167.58 244.3L175.4 244.3L175.4 244.3L183.22 244.3L183.22 244.3L191.04 244.3L191.04 244.3L198.86 244.3L198.86 244.6L206.68 244.6L206.68 244.8L214.5 244.8L214.5 245L222.32 245L222.32 245.3L230.14 245.3L230.14 245.6L237.96 245.6L237.96 246L245.78 246L245.78 246L253.6 246L253.6 245.8L261.42 245.8L261.42 246.3L269.24 246.3L269.24 246.8L277.06 246.8L277.06 247.3L284.88 247.3L284.88 247.6L292.7 247.6L292.7 247.8L300.52 247.8L300.52 249.8L308.34 249.8L308.34 250.3L316.16 250.3L316.16 250.4L323.98 250.4L323.98 250.6L331.8 250.6L331.8 251.6L339.62 251.6L339.62 250.4L347.44 250.4L347.44 250.9L355.26 250.9L355.26 251.8L363.08 251.8L363.08 252.7L370.9 252.7L370.9 253L378.72 253L378.72 253.3L386.54 253.3L386.54 254.4L394.36 254.4L394.36 254.3L402.18 254.3L402.18 256.3L410 256.3" fill="none" stroke="#4a3b37" stroke-width="1.5"/>
</g>
<path d="M97.2 242.2L410 242.2" stroke="#000" stroke-width="1.6" fill="none"/>
<path d="M317.5 34.2L379.2 34.2" stroke="#0000ff" stroke-width="1.8" stroke-dasharray="4.25 2.1" fill="none"/>
<path d="M317.5 57.3L379.7 57.3" stroke="#ff0000" stroke-width="2.1" fill="none"/>
<path d="M105.02 12.4v3.25M105.02 220.1v-3.25M105.02 220.1v3.25M105.02 271.9v-3.25M112.84 12.4v3.25M112.84 220.1v-3.25M112.84 220.1v3.25M112.84 271.9v-3.25M120.66 12.4v3.25M120.66 220.1v-3.25M120.66 220.1v3.25M120.66 271.9v-3.25M128.48 12.4v3.25M128.48 220.1v-3.25M128.48 220.1v3.25M128.48 271.9v-3.25M136.3 12.4v3.25M136.3 220.1v-3.25M136.3 220.1v3.25M136.3 271.9v-3.25M144.12 12.4v3.25M144.12 220.1v-3.25M144.12 220.1v3.25M144.12 271.9v-3.25M151.94 12.4v3.25M151.94 220.1v-3.25M151.94 220.1v3.25M151.94 271.9v-3.25M159.76 12.4v3.25M159.76 220.1v-3.25M159.76 220.1v3.25M159.76 271.9v-3.25M167.58 12.4v3.25M167.58 220.1v-3.25M167.58 220.1v3.25M167.58 271.9v-3.25M175.4 12.4v6.5M175.4 220.1v-6.5M175.4 220.1v6.5M175.4 271.9v-6.5M183.22 12.4v3.25M183.22 220.1v-3.25M183.22 220.1v3.25M183.22 271.9v-3.25M191.04 12.4v3.25M191.04 220.1v-3.25M191.04 220.1v3.25M191.04 271.9v-3.25M198.86 12.4v3.25M198.86 220.1v-3.25M198.86 220.1v3.25M198.86 271.9v-3.25M206.68 12.4v3.25M206.68 220.1v-3.25M206.68 220.1v3.25M206.68 271.9v-3.25M214.5 12.4v3.25M214.5 220.1v-3.25M214.5 220.1v3.25M214.5 271.9v-3.25M222.32 12.4v3.25M222.32 220.1v-3.25M222.32 220.1v3.25M222.32 271.9v-3.25M230.14 12.4v3.25M230.14 220.1v-3.25M230.14 220.1v3.25M230.14 271.9v-3.25M237.96 12.4v3.25M237.96 220.1v-3.25M237.96 220.1v3.25M237.96 271.9v-3.25M245.78 12.4v3.25M245.78 220.1v-3.25M245.78 220.1v3.25M245.78 271.9v-3.25M253.6 12.4v6.5M253.6 220.1v-6.5M253.6 220.1v6.5M253.6 271.9v-6.5M261.42 12.4v3.25M261.42 220.1v-3.25M261.42 220.1v3.25M261.42 271.9v-3.25M269.24 12.4v3.25M269.24 220.1v-3.25M269.24 220.1v3.25M269.24 271.9v-3.25M277.06 12.4v3.25M277.06 220.1v-3.25M277.06 220.1v3.25M277.06 271.9v-3.25M284.88 12.4v3.25M284.88 220.1v-3.25M284.88 220.1v3.25M284.88 271.9v-3.25M292.7 12.4v3.25M292.7 220.1v-3.25M292.7 220.1v3.25M292.7 271.9v-3.25M300.52 12.4v3.25M300.52 220.1v-3.25M300.52 220.1v3.25M300.52 271.9v-3.25M308.34 12.4v3.25M308.34 220.1v-3.25M308.34 220.1v3.25M308.34 271.9v-3.25M316.16 12.4v3.25M316.16 220.1v-3.25M316.16 220.1v3.25M316.16 271.9v-3.25M323.98 12.4v3.25M323.98 220.1v-3.25M323.98 220.1v3.25M323.98 271.9v-3.25M331.8 12.4v6.5M331.8 220.1v-6.5M331.8 220.1v6.5M331.8 271.9v-6.5M339.62 12.4v3.25M339.62 220.1v-3.25M339.62 220.1v3.25M339.62 271.9v-3.25M347.44 12.4v3.25M347.44 220.1v-3.25M347.44 220.1v3.25M347.44 271.9v-3.25M355.26 12.4v3.25M355.26 220.1v-3.25M355.26 220.1v3.25M355.26 271.9v-3.25M363.08 12.4v3.25M363.08 220.1v-3.25M363.08 220.1v3.25M363.08 271.9v-3.25M370.9 12.4v3.25M370.9 220.1v-3.25M370.9 220.1v3.25M370.9 271.9v-3.25M378.72 12.4v3.25M378.72 220.1v-3.25M378.72 220.1v3.25M378.72 271.9v-3.25M386.54 12.4v3.25M386.54 220.1v-3.25M386.54 220.1v3.25M386.54 271.9v-3.25M394.36 12.4v3.25M394.36 220.1v-3.25M394.36 220.1v3.25M394.36 271.9v-3.25M402.18 12.4v3.25M402.18 220.1v-3.25M402.18 220.1v3.25M402.18 271.9v-3.25M97.2 68.4h6.5M410 68.4h-6.5M97.2 51.54h3.25M410 51.54h-3.25M97.2 41.68h3.25M410 41.68h-3.25M97.2 34.68h3.25M410 34.68h-3.25M97.2 29.26h3.25M410 29.26h-3.25M97.2 24.82h3.25M410 24.82h-3.25M97.2 21.07h3.25M410 21.07h-3.25M97.2 17.83h3.25M410 17.83h-3.25M97.2 14.96h3.25M410 14.96h-3.25M97.2 124.4h6.5M410 124.4h-6.5M97.2 107.54h3.25M410 107.54h-3.25M97.2 97.68h3.25M410 97.68h-3.25M97.2 90.68h3.25M410 90.68h-3.25M97.2 85.26h3.25M410 85.26h-3.25M97.2 80.82h3.25M410 80.82h-3.25M97.2 77.07h3.25M410 77.07h-3.25M97.2 73.83h3.25M410 73.83h-3.25M97.2 70.96h3.25M410 70.96h-3.25M97.2 180.4h6.5M410 180.4h-6.5M97.2 163.54h3.25M410 163.54h-3.25M97.2 153.68h3.25M410 153.68h-3.25M97.2 146.68h3.25M410 146.68h-3.25M97.2 141.26h3.25M410 141.26h-3.25M97.2 136.82h3.25M410 136.82h-3.25M97.2 133.07h3.25M410 133.07h-3.25M97.2 129.83h3.25M410 129.83h-3.25M97.2 126.96h3.25M410 126.96h-3.25M97.2 219.54h3.25M410 219.54h-3.25M97.2 209.68h3.25M410 209.68h-3.25M97.2 202.68h3.25M410 202.68h-3.25M97.2 197.26h3.25M410 197.26h-3.25M97.2 192.82h3.25M410 192.82h-3.25M97.2 189.07h3.25M410 189.07h-3.25M97.2 185.83h3.25M410 185.83h-3.25M97.2 182.96h3.25M410 182.96h-3.25M97.2 257.05h6.5M410 257.05h-6.5M97.2 242.2h6.5M410 242.2h-6.5M97.2 227.35h6.5M410 227.35h-6.5" stroke="#000" stroke-width="1.2" fill="none"/>
<rect x="97.2" y="12.4" width="312.8" height="207.7" fill="none" stroke="#000" stroke-width="1.3"/>
<rect x="97.2" y="220.1" width="312.8" height="51.8" fill="none" stroke="#000" stroke-width="1.3"/>
<g font-family="'Liberation Serif', 'DejaVu Serif', serif" fill="#1a1a1a">
<text x="97.55" y="300.9" font-size="20.8" letter-spacing="0.7" text-anchor="middle">0</text>
<text x="175.75" y="300.9" font-size="20.8" letter-spacing="0.7" text-anchor="middle">100</text>
<text x="253.95" y="300.9" font-size="20.8" letter-spacing="0.7" text-anchor="middle">200</text>
<text x="332.15" y="300.9" font-size="20.8" letter-spacing="0.7" text-anchor="middle">300</text>
<text x="410.35" y="300.9" font-size="20.8" letter-spacing="0.7" text-anchor="middle">400</text>
<text x="81.6" y="17.7" font-size="20.3" text-anchor="end">10<tspan font-size="14" dx="0" dy="-7">1</tspan></text>
<text x="81.6" y="73.7" font-size="20.3" text-anchor="end">10<tspan font-size="14" dx="0" dy="-7">0</tspan></text>
<text x="81.6" y="129.7" font-size="20.3" text-anchor="end">10<tspan font-size="14" dx="0.9" dy="-7">−1</tspan></text>
<text x="81.6" y="185.7" font-size="20.3" text-anchor="end">10<tspan font-size="14" dx="0.9" dy="-7">−2</tspan></text>
<text x="83.6" y="278.4" font-size="14.6" text-anchor="end">0</text>
<text x="83.6" y="262.85" font-size="14.6" text-anchor="end">0.5</text>
<text x="83.6" y="248" font-size="14.6" text-anchor="end">1</text>
<text x="83.6" y="233.15" font-size="14.6" text-anchor="end">1.5</text>
<text x="304.9" y="39.5" font-size="20.3" letter-spacing="0.8" text-anchor="end">LO</text>
<text x="304.9" y="62.5" font-size="20.3" letter-spacing="0.8" text-anchor="end">NLO</text>
<text transform="translate(207.6 334.1) scale(1.1 1)" font-size="20.3" font-style="italic">p</text>
<text transform="translate(218.6 337.5) scale(1.32 1)" font-size="11.4" font-style="italic">T</text>
<text transform="translate(230.9 337.4) scale(1.0 1)" font-size="12.9" font-style="italic">j</text>
<text transform="translate(234.2 340.8) scale(1.0 1)" font-size="8.8">1</text>
<text x="247.4" y="334.1" font-size="20.3">[GeV]</text>
<g transform="translate(0,0) rotate(-90)">
<text x="-131.9" y="19.0" font-size="21.2" letter-spacing="0.15">[fb/GeV]</text>
<text x="-167.2" y="11.2" font-size="15" font-style="italic">dσ</text>
<path d="M-175.2 12.6L-139.6 12.6" stroke="#1a1a1a" stroke-width="0.8"/>
<text x="-174.8" y="24.9" font-size="14" font-style="italic">dp</text>
<text transform="translate(-161 28) scale(1.25 1)" font-size="9.6" font-style="italic">T</text>
<text transform="translate(-151.6 29.4) scale(1.0 1)" font-size="9.2" font-style="italic">j</text>
<text transform="translate(-147.7 32) scale(1.0 1)" font-size="7.2">1</text>
<text x="-260.6" y="12.9" font-size="14.6" font-style="italic">NLO</text>
<path d="M-261.2 15L-229.8 15" stroke="#1a1a1a" stroke-width="0.8"/>
<text x="-254.8" y="28.1" font-size="14.6" font-style="italic">LO</text>
</g>
</g>
</svg>
</body>
</html>
